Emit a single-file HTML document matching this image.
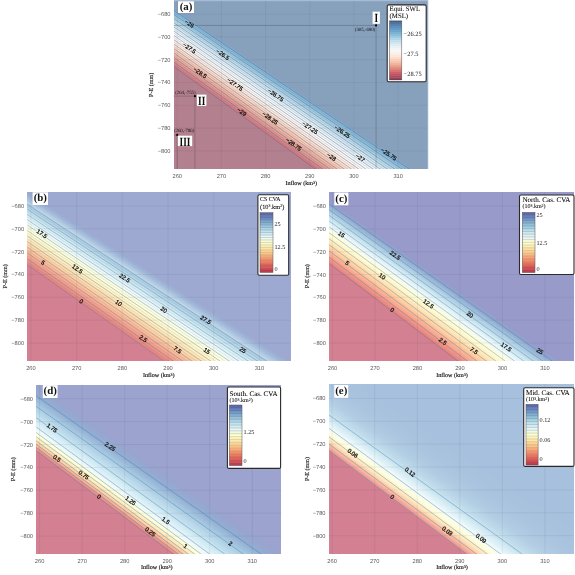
<!DOCTYPE html>
<html><head><meta charset="utf-8"><title>Caspian equilibrium figure</title>
<style>html,body{margin:0;padding:0;background:#fff;width:575px;height:575px;overflow:hidden}svg{display:block;filter:blur(0.5px)}svg text{text-rendering:geometricPrecision}
</style></head>
<body>
<svg width="575" height="575" viewBox="0 0 575 575">
<rect width="575" height="575" fill="#fff"/>
<clipPath id="clip_a"><rect x="174" y="0" width="254" height="169"/></clipPath>
<g clip-path="url(#clip_a)">
<rect x="174" y="0" width="254" height="169" fill="#b3808f"/>
<path d="M171.7 76.85L430.4 266.6L430.4 -400L171.7 -400Z" fill="#b3808f"/>
<path d="M171.7 65.57L430.4 252.77L430.4 -400L171.7 -400Z" fill="#c58592"/>
<path d="M171.7 65.11L430.4 252.2L430.4 -400L171.7 -400Z" fill="#d17580"/>
<path d="M171.7 64.65L430.4 251.63L430.4 -400L171.7 -400Z" fill="#d27781"/>
<path d="M171.7 64.18L430.4 251.06L430.4 -400L171.7 -400Z" fill="#d47a83"/>
<path d="M171.7 63.72L430.4 250.5L430.4 -400L171.7 -400Z" fill="#d57c83"/>
<path d="M171.7 63.26L430.4 249.93L430.4 -400L171.7 -400Z" fill="#d67f85"/>
<path d="M171.7 62.8L430.4 249.37L430.4 -400L171.7 -400Z" fill="#d78186"/>
<path d="M171.7 62.34L430.4 248.8L430.4 -400L171.7 -400Z" fill="#d98487"/>
<path d="M171.7 61.88L430.4 248.24L430.4 -400L171.7 -400Z" fill="#da8688"/>
<path d="M171.7 61.42L430.4 247.67L430.4 -400L171.7 -400Z" fill="#db8889"/>
<path d="M171.7 60.96L430.4 247.11L430.4 -400L171.7 -400Z" fill="#dc8b8b"/>
<path d="M171.7 60.5L430.4 246.55L430.4 -400L171.7 -400Z" fill="#dd8d8b"/>
<path d="M171.7 60.05L430.4 245.99L430.4 -400L171.7 -400Z" fill="#df908d"/>
<path d="M171.7 59.59L430.4 245.43L430.4 -400L171.7 -400Z" fill="#e0928e"/>
<path d="M171.7 59.13L430.4 244.87L430.4 -400L171.7 -400Z" fill="#e1958f"/>
<path d="M171.7 58.68L430.4 244.31L430.4 -400L171.7 -400Z" fill="#e29790"/>
<path d="M171.7 58.22L430.4 243.75L430.4 -400L171.7 -400Z" fill="#e49b92"/>
<path d="M171.7 57.77L430.4 243.19L430.4 -400L171.7 -400Z" fill="#e59c93"/>
<path d="M171.7 57.31L430.4 242.63L430.4 -400L171.7 -400Z" fill="#e6a094"/>
<path d="M171.7 56.86L430.4 242.08L430.4 -400L171.7 -400Z" fill="#e7a195"/>
<path d="M171.7 56.4L430.4 241.52L430.4 -400L171.7 -400Z" fill="#e9a498"/>
<path d="M171.7 55.95L430.4 240.96L430.4 -400L171.7 -400Z" fill="#e9a699"/>
<path d="M171.7 55.5L430.4 240.41L430.4 -400L171.7 -400Z" fill="#eaa89a"/>
<path d="M171.7 55.05L430.4 239.86L430.4 -400L171.7 -400Z" fill="#ebab9d"/>
<path d="M171.7 54.59L430.4 239.3L430.4 -400L171.7 -400Z" fill="#ecad9e"/>
<path d="M171.7 54.14L430.4 238.75L430.4 -400L171.7 -400Z" fill="#edb0a1"/>
<path d="M171.7 53.69L430.4 238.2L430.4 -400L171.7 -400Z" fill="#eeb1a2"/>
<path d="M171.7 53.24L430.4 237.64L430.4 -400L171.7 -400Z" fill="#f0b5a4"/>
<path d="M171.7 52.79L430.4 237.09L430.4 -400L171.7 -400Z" fill="#f0b6a6"/>
<path d="M171.7 52.34L430.4 236.54L430.4 -400L171.7 -400Z" fill="#f2baa8"/>
<path d="M171.7 51.89L430.4 235.99L430.4 -400L171.7 -400Z" fill="#f2bba9"/>
<path d="M171.7 51.45L430.4 235.44L430.4 -400L171.7 -400Z" fill="#f4beac"/>
<path d="M171.7 51L430.4 234.89L430.4 -400L171.7 -400Z" fill="#f5c0ad"/>
<path d="M171.7 50.55L430.4 234.34L430.4 -400L171.7 -400Z" fill="#f5c2ae"/>
<path d="M171.7 50.1L430.4 233.8L430.4 -400L171.7 -400Z" fill="#f7c5b1"/>
<path d="M171.7 49.66L430.4 233.25L430.4 -400L171.7 -400Z" fill="#f7c7b2"/>
<path d="M171.7 49.21L430.4 232.7L430.4 -400L171.7 -400Z" fill="#f9cab5"/>
<path d="M171.7 48.77L430.4 232.16L430.4 -400L171.7 -400Z" fill="#f9cbb6"/>
<path d="M171.7 48.32L430.4 231.61L430.4 -400L171.7 -400Z" fill="#f9cdba"/>
<path d="M171.7 47.88L430.4 231.07L430.4 -400L171.7 -400Z" fill="#f9cfbb"/>
<path d="M171.7 47.43L430.4 230.52L430.4 -400L171.7 -400Z" fill="#fad1bf"/>
<path d="M171.7 46.99L430.4 229.98L430.4 -400L171.7 -400Z" fill="#fad3c0"/>
<path d="M171.7 46.55L430.4 229.43L430.4 -400L171.7 -400Z" fill="#fad5c3"/>
<path d="M171.7 46.11L430.4 228.89L430.4 -400L171.7 -400Z" fill="#fbd6c5"/>
<path d="M171.7 45.66L430.4 228.35L430.4 -400L171.7 -400Z" fill="#fbd8c7"/>
<path d="M171.7 45.22L430.4 227.81L430.4 -400L171.7 -400Z" fill="#fbdaca"/>
<path d="M171.7 44.78L430.4 227.27L430.4 -400L171.7 -400Z" fill="#fbdbcc"/>
<path d="M171.7 44.34L430.4 226.73L430.4 -400L171.7 -400Z" fill="#fcdecf"/>
<path d="M171.7 43.9L430.4 226.19L430.4 -400L171.7 -400Z" fill="#fcdfd0"/>
<path d="M171.7 43.46L430.4 225.65L430.4 -400L171.7 -400Z" fill="#fde2d4"/>
<path d="M171.7 43.02L430.4 225.11L430.4 -400L171.7 -400Z" fill="#fde3d5"/>
<path d="M171.7 42.58L430.4 224.57L430.4 -400L171.7 -400Z" fill="#fde6d9"/>
<path d="M171.7 42.15L430.4 224.04L430.4 -400L171.7 -400Z" fill="#fde7da"/>
<path d="M171.7 41.71L430.4 223.5L430.4 -400L171.7 -400Z" fill="#fee9dd"/>
<path d="M171.7 41.27L430.4 222.96L430.4 -400L171.7 -400Z" fill="#feeadf"/>
<path d="M171.7 40.83L430.4 222.43L430.4 -400L171.7 -400Z" fill="#fdebe1"/>
<path d="M171.7 40.4L430.4 221.89L430.4 -400L171.7 -400Z" fill="#fdece2"/>
<path d="M171.7 39.96L430.4 221.36L430.4 -400L171.7 -400Z" fill="#fdede3"/>
<path d="M171.7 39.53L430.4 220.83L430.4 -400L171.7 -400Z" fill="#fdeee5"/>
<path d="M171.7 39.09L430.4 220.29L430.4 -400L171.7 -400Z" fill="#fdefe6"/>
<path d="M171.7 38.66L430.4 219.76L430.4 -400L171.7 -400Z" fill="#fcf0e9"/>
<path d="M171.7 38.23L430.4 219.23L430.4 -400L171.7 -400Z" fill="#fcf1ea"/>
<path d="M171.7 37.79L430.4 218.7L430.4 -400L171.7 -400Z" fill="#fcf2ec"/>
<path d="M171.7 37.36L430.4 218.17L430.4 -400L171.7 -400Z" fill="#fcf3ed"/>
<path d="M171.7 36.93L430.4 217.64L430.4 -400L171.7 -400Z" fill="#fcf4ef"/>
<path d="M171.7 36.49L430.4 217.11L430.4 -400L171.7 -400Z" fill="#fbf5f1"/>
<path d="M171.7 36.06L430.4 216.58L430.4 -400L171.7 -400Z" fill="#fbf6f3"/>
<path d="M171.7 35.63L430.4 216.05L430.4 -400L171.7 -400Z" fill="#fbf7f4"/>
<path d="M171.7 35.2L430.4 215.52L430.4 -400L171.7 -400Z" fill="#fbf7f5"/>
<path d="M171.7 34.77L430.4 214.99L430.4 -400L171.7 -400Z" fill="#fbf9f7"/>
<path d="M171.7 34.34L430.4 214.47L430.4 -400L171.7 -400Z" fill="#faf9f9"/>
<path d="M171.7 33.91L430.4 213.94L430.4 -400L171.7 -400Z" fill="#fafafa"/>
<path d="M171.7 33.48L430.4 213.42L430.4 -400L171.7 -400Z" fill="#f9fafa"/>
<path d="M171.7 33.06L430.4 212.89L430.4 -400L171.7 -400Z" fill="#f7f9fa"/>
<path d="M171.7 32.63L430.4 212.37L430.4 -400L171.7 -400Z" fill="#f6f8f9"/>
<path d="M171.7 32.2L430.4 211.84L430.4 -400L171.7 -400Z" fill="#f4f7f9"/>
<path d="M171.7 31.78L430.4 211.32L430.4 -400L171.7 -400Z" fill="#f3f7f9"/>
<path d="M171.7 31.35L430.4 210.8L430.4 -400L171.7 -400Z" fill="#f2f6f9"/>
<path d="M171.7 30.92L430.4 210.27L430.4 -400L171.7 -400Z" fill="#f1f6f8"/>
<path d="M171.7 30.5L430.4 209.75L430.4 -400L171.7 -400Z" fill="#f0f5f8"/>
<path d="M171.7 30.07L430.4 209.23L430.4 -400L171.7 -400Z" fill="#eef4f8"/>
<path d="M171.7 29.65L430.4 208.71L430.4 -400L171.7 -400Z" fill="#edf4f8"/>
<path d="M171.7 29.22L430.4 208.19L430.4 -400L171.7 -400Z" fill="#ebf3f7"/>
<path d="M171.7 28.38L430.4 207.15L430.4 -400L171.7 -400Z" fill="#e9f2f7"/>
<path d="M171.7 27.95L430.4 206.63L430.4 -400L171.7 -400Z" fill="#e8f2f7"/>
<path d="M171.7 27.53L430.4 206.12L430.4 -400L171.7 -400Z" fill="#e6f1f6"/>
<path d="M171.7 27.11L430.4 205.6L430.4 -400L171.7 -400Z" fill="#e5f0f6"/>
<path d="M171.7 26.69L430.4 205.08L430.4 -400L171.7 -400Z" fill="#e3eff6"/>
<path d="M171.7 26.27L430.4 204.57L430.4 -400L171.7 -400Z" fill="#e2eff6"/>
<path d="M171.7 25.85L430.4 204.05L430.4 -400L171.7 -400Z" fill="#dfedf5"/>
<path d="M171.7 25.43L430.4 203.54L430.4 -400L171.7 -400Z" fill="#ddecf4"/>
<path d="M171.7 25.01L430.4 203.02L430.4 -400L171.7 -400Z" fill="#dcecf4"/>
<path d="M171.7 24.59L430.4 202.51L430.4 -400L171.7 -400Z" fill="#d9eaf3"/>
<path d="M171.7 24.17L430.4 201.99L430.4 -400L171.7 -400Z" fill="#d8e9f3"/>
<path d="M171.7 23.75L430.4 201.48L430.4 -400L171.7 -400Z" fill="#d5e8f2"/>
<path d="M171.7 23.33L430.4 200.97L430.4 -400L171.7 -400Z" fill="#d3e7f1"/>
<path d="M171.7 22.92L430.4 200.46L430.4 -400L171.7 -400Z" fill="#d0e6f0"/>
<path d="M171.7 22.5L430.4 199.95L430.4 -400L171.7 -400Z" fill="#cfe5f0"/>
<path d="M171.7 22.08L430.4 199.44L430.4 -400L171.7 -400Z" fill="#cce3ef"/>
<path d="M171.7 21.67L430.4 198.93L430.4 -400L171.7 -400Z" fill="#cae3ef"/>
<path d="M171.7 21.25L430.4 198.42L430.4 -400L171.7 -400Z" fill="#c7e1ee"/>
<path d="M171.7 20.84L430.4 197.91L430.4 -400L171.7 -400Z" fill="#c6e0ee"/>
<path d="M171.7 20.42L430.4 197.4L430.4 -400L171.7 -400Z" fill="#c4e0ed"/>
<path d="M171.7 20.01L430.4 196.89L430.4 -400L171.7 -400Z" fill="#c1deec"/>
<path d="M171.7 19.6L430.4 196.38L430.4 -400L171.7 -400Z" fill="#c0ddec"/>
<path d="M171.7 19.18L430.4 195.88L430.4 -400L171.7 -400Z" fill="#bddceb"/>
<path d="M171.7 18.77L430.4 195.37L430.4 -400L171.7 -400Z" fill="#bbdaea"/>
<path d="M171.7 18.36L430.4 194.86L430.4 -400L171.7 -400Z" fill="#b7d8e9"/>
<path d="M171.7 17.94L430.4 194.36L430.4 -400L171.7 -400Z" fill="#b5d7e8"/>
<path d="M171.7 17.53L430.4 193.85L430.4 -400L171.7 -400Z" fill="#b2d5e7"/>
<path d="M171.7 17.12L430.4 193.35L430.4 -400L171.7 -400Z" fill="#b0d3e6"/>
<path d="M171.7 16.71L430.4 192.85L430.4 -400L171.7 -400Z" fill="#acd1e5"/>
<path d="M171.7 16.3L430.4 192.34L430.4 -400L171.7 -400Z" fill="#aad0e5"/>
<path d="M171.7 15.89L430.4 191.84L430.4 -400L171.7 -400Z" fill="#a8cfe4"/>
<path d="M171.7 15.48L430.4 191.34L430.4 -400L171.7 -400Z" fill="#a5cce3"/>
<path d="M171.7 15.07L430.4 190.84L430.4 -400L171.7 -400Z" fill="#a3cbe2"/>
<path d="M171.7 14.66L430.4 190.34L430.4 -400L171.7 -400Z" fill="#9fc9e1"/>
<path d="M171.7 14.26L430.4 189.83L430.4 -400L171.7 -400Z" fill="#9dc8e0"/>
<path d="M171.7 13.85L430.4 189.33L430.4 -400L171.7 -400Z" fill="#99c5df"/>
<path d="M171.7 13.44L430.4 188.84L430.4 -400L171.7 -400Z" fill="#97c4de"/>
<path d="M171.7 13.03L430.4 188.34L430.4 -400L171.7 -400Z" fill="#94c2dd"/>
<path d="M171.7 12.63L430.4 187.84L430.4 -400L171.7 -400Z" fill="#92c1dc"/>
<path d="M171.7 12.22L430.4 187.34L430.4 -400L171.7 -400Z" fill="#8ebedb"/>
<path d="M171.7 11.82L430.4 186.84L430.4 -400L171.7 -400Z" fill="#8dbdda"/>
<path d="M171.7 11.41L430.4 186.35L430.4 -400L171.7 -400Z" fill="#8cbbd9"/>
<path d="M171.7 11.01L430.4 185.85L430.4 -400L171.7 -400Z" fill="#8bbad9"/>
<path d="M171.7 10.6L430.4 185.35L430.4 -400L171.7 -400Z" fill="#8ab9d8"/>
<path d="M171.7 10.2L430.4 184.86L430.4 -400L171.7 -400Z" fill="#89b7d7"/>
<path d="M171.7 9.79L430.4 184.36L430.4 -400L171.7 -400Z" fill="#88b6d7"/>
<path d="M171.7 9.39L430.4 183.87L430.4 -400L171.7 -400Z" fill="#86b4d6"/>
<path d="M171.7 8.99L430.4 183.38L430.4 -400L171.7 -400Z" fill="#85b1d4"/>
<path d="M171.7 8.59L430.4 182.88L430.4 -400L171.7 -400Z" fill="#85add3"/>
<path d="M171.7 8.18L430.4 182.39L430.4 -400L171.7 -400Z" fill="#85aad1"/>
<path d="M171.7 7.78L430.4 181.9L430.4 -400L171.7 -400Z" fill="#85a5c7"/>
<path d="M171.7 7.38L430.4 181.41L430.4 -400L171.7 -400Z" fill="#86a2c0"/>
<path d="M171.7 6.98L430.4 180.92L430.4 -400L171.7 -400Z" fill="#87a1bd"/>
</g>
<g stroke="rgba(60,60,90,0.10)" stroke-width="0.8">
<line x1="177.23" y1="0" x2="177.23" y2="168.7"/>
<line x1="221.41" y1="0" x2="221.41" y2="168.7"/>
<line x1="265.6" y1="0" x2="265.6" y2="168.7"/>
<line x1="309.78" y1="0" x2="309.78" y2="168.7"/>
<line x1="353.96" y1="0" x2="353.96" y2="168.7"/>
<line x1="398.14" y1="0" x2="398.14" y2="168.7"/>
<line x1="173.7" y1="14.03" x2="428.4" y2="14.03"/>
<line x1="173.7" y1="36.84" x2="428.4" y2="36.84"/>
<line x1="173.7" y1="59.66" x2="428.4" y2="59.66"/>
<line x1="173.7" y1="82.47" x2="428.4" y2="82.47"/>
<line x1="173.7" y1="105.28" x2="428.4" y2="105.28"/>
<line x1="173.7" y1="128.09" x2="428.4" y2="128.09"/>
<line x1="173.7" y1="150.91" x2="428.4" y2="150.91"/>
</g>
<g clip-path="url(#clip_a)" stroke="#4a6885" stroke-width="0.75" stroke-opacity="0.6" fill="none">
<line x1="173.7" y1="66.56" x2="428.4" y2="250.75"/>
<line x1="173.7" y1="61.94" x2="428.4" y2="245.11"/>
<line x1="173.7" y1="57.38" x2="428.4" y2="239.53"/>
<line x1="173.7" y1="52.87" x2="428.4" y2="234.02"/>
<line x1="173.7" y1="48.41" x2="428.4" y2="228.56"/>
<line x1="173.7" y1="43.99" x2="428.4" y2="223.17"/>
<line x1="173.7" y1="39.62" x2="428.4" y2="217.83"/>
<line x1="173.7" y1="35.31" x2="428.4" y2="212.55"/>
<line x1="173.7" y1="31.03" x2="428.4" y2="207.33"/>
<line x1="173.7" y1="26.8" x2="428.4" y2="202.16"/>
<line x1="173.7" y1="22.62" x2="428.4" y2="197.05"/>
<line x1="173.7" y1="18.48" x2="428.4" y2="191.99"/>
<line x1="173.7" y1="14.39" x2="428.4" y2="186.98"/>
<line x1="173.7" y1="10.34" x2="428.4" y2="182.03"/>
</g>
<g clip-path="url(#clip_a)" stroke="#4a6885" stroke-width="0.6" stroke-opacity="0.3" fill="none">
<line x1="173.7" y1="64.24" x2="428.4" y2="247.92"/>
<line x1="173.7" y1="59.66" x2="428.4" y2="242.32"/>
<line x1="173.7" y1="55.12" x2="428.4" y2="236.77"/>
<line x1="173.7" y1="50.63" x2="428.4" y2="231.28"/>
<line x1="173.7" y1="46.19" x2="428.4" y2="225.86"/>
<line x1="173.7" y1="41.8" x2="428.4" y2="220.49"/>
<line x1="173.7" y1="37.46" x2="428.4" y2="215.18"/>
<line x1="173.7" y1="33.16" x2="428.4" y2="209.93"/>
<line x1="173.7" y1="28.91" x2="428.4" y2="204.74"/>
<line x1="173.7" y1="24.71" x2="428.4" y2="199.6"/>
<line x1="173.7" y1="20.55" x2="428.4" y2="194.51"/>
<line x1="173.7" y1="16.43" x2="428.4" y2="189.48"/>
<line x1="173.7" y1="12.36" x2="428.4" y2="184.5"/>
</g>
<clipPath id="clip_b"><rect x="27" y="192" width="264" height="169"/></clipPath>
<g clip-path="url(#clip_b)">
<rect x="27" y="192" width="264" height="169" fill="#d28092"/>
<path d="M25.3 273.69L292.7 464.87L292.7 -208.2L25.3 -208.2Z" fill="#d28092"/>
<path d="M25.3 263.66L292.7 452.58L292.7 -208.2L25.3 -208.2Z" fill="#df8c93"/>
<path d="M25.3 263.05L292.7 451.82L292.7 -208.2L25.3 -208.2Z" fill="#e38282"/>
<path d="M25.3 262.43L292.7 451.07L292.7 -208.2L25.3 -208.2Z" fill="#e58482"/>
<path d="M25.3 261.81L292.7 450.31L292.7 -208.2L25.3 -208.2Z" fill="#e78682"/>
<path d="M25.3 261.19L292.7 449.55L292.7 -208.2L25.3 -208.2Z" fill="#e98983"/>
<path d="M25.3 260.58L292.7 448.8L292.7 -208.2L25.3 -208.2Z" fill="#ea8c84"/>
<path d="M25.3 259.97L292.7 448.05L292.7 -208.2L25.3 -208.2Z" fill="#eb8d85"/>
<path d="M25.3 259.35L292.7 447.3L292.7 -208.2L25.3 -208.2Z" fill="#ec9086"/>
<path d="M25.3 258.74L292.7 446.54L292.7 -208.2L25.3 -208.2Z" fill="#ed9387"/>
<path d="M25.3 258.13L292.7 445.79L292.7 -208.2L25.3 -208.2Z" fill="#ef9688"/>
<path d="M25.3 257.52L292.7 445.05L292.7 -208.2L25.3 -208.2Z" fill="#f0988a"/>
<path d="M25.3 256.91L292.7 444.3L292.7 -208.2L25.3 -208.2Z" fill="#f19a8a"/>
<path d="M25.3 256.3L292.7 443.55L292.7 -208.2L25.3 -208.2Z" fill="#f29c8c"/>
<path d="M25.3 255.69L292.7 442.81L292.7 -208.2L25.3 -208.2Z" fill="#f39f8d"/>
<path d="M25.3 255.09L292.7 442.06L292.7 -208.2L25.3 -208.2Z" fill="#f5a28e"/>
<path d="M25.3 254.48L292.7 441.32L292.7 -208.2L25.3 -208.2Z" fill="#f6a58f"/>
<path d="M25.3 253.88L292.7 440.58L292.7 -208.2L25.3 -208.2Z" fill="#f7a690"/>
<path d="M25.3 253.27L292.7 439.84L292.7 -208.2L25.3 -208.2Z" fill="#f8a991"/>
<path d="M25.3 252.67L292.7 439.1L292.7 -208.2L25.3 -208.2Z" fill="#f9ac93"/>
<path d="M25.3 252.07L292.7 438.36L292.7 -208.2L25.3 -208.2Z" fill="#f9af94"/>
<path d="M25.3 251.46L292.7 437.62L292.7 -208.2L25.3 -208.2Z" fill="#fab295"/>
<path d="M25.3 250.86L292.7 436.89L292.7 -208.2L25.3 -208.2Z" fill="#fab396"/>
<path d="M25.3 250.26L292.7 436.15L292.7 -208.2L25.3 -208.2Z" fill="#fab697"/>
<path d="M25.3 249.66L292.7 435.42L292.7 -208.2L25.3 -208.2Z" fill="#fbb999"/>
<path d="M25.3 249.07L292.7 434.68L292.7 -208.2L25.3 -208.2Z" fill="#fbbc9a"/>
<path d="M25.3 248.47L292.7 433.95L292.7 -208.2L25.3 -208.2Z" fill="#fbbf9c"/>
<path d="M25.3 247.87L292.7 433.22L292.7 -208.2L25.3 -208.2Z" fill="#fcc09c"/>
<path d="M25.3 247.28L292.7 432.49L292.7 -208.2L25.3 -208.2Z" fill="#fcc39e"/>
<path d="M25.3 246.68L292.7 431.76L292.7 -208.2L25.3 -208.2Z" fill="#fdc69f"/>
<path d="M25.3 246.09L292.7 431.03L292.7 -208.2L25.3 -208.2Z" fill="#fdc9a0"/>
<path d="M25.3 245.5L292.7 430.31L292.7 -208.2L25.3 -208.2Z" fill="#fdcca2"/>
<path d="M25.3 244.9L292.7 429.58L292.7 -208.2L25.3 -208.2Z" fill="#fecea2"/>
<path d="M25.3 244.31L292.7 428.85L292.7 -208.2L25.3 -208.2Z" fill="#fed1a4"/>
<path d="M25.3 243.72L292.7 428.13L292.7 -208.2L25.3 -208.2Z" fill="#fed3a6"/>
<path d="M25.3 243.13L292.7 427.41L292.7 -208.2L25.3 -208.2Z" fill="#fed5a8"/>
<path d="M25.3 242.55L292.7 426.69L292.7 -208.2L25.3 -208.2Z" fill="#fed7aa"/>
<path d="M25.3 241.96L292.7 425.97L292.7 -208.2L25.3 -208.2Z" fill="#fed9ab"/>
<path d="M25.3 241.37L292.7 425.25L292.7 -208.2L25.3 -208.2Z" fill="#fedbae"/>
<path d="M25.3 240.78L292.7 424.53L292.7 -208.2L25.3 -208.2Z" fill="#feddb0"/>
<path d="M25.3 240.2L292.7 423.81L292.7 -208.2L25.3 -208.2Z" fill="#fedfb2"/>
<path d="M25.3 239.62L292.7 423.09L292.7 -208.2L25.3 -208.2Z" fill="#fee2b4"/>
<path d="M25.3 239.03L292.7 422.38L292.7 -208.2L25.3 -208.2Z" fill="#fee3b5"/>
<path d="M25.3 238.45L292.7 421.66L292.7 -208.2L25.3 -208.2Z" fill="#fee5b7"/>
<path d="M25.3 237.87L292.7 420.95L292.7 -208.2L25.3 -208.2Z" fill="#fee7b9"/>
<path d="M25.3 237.29L292.7 420.24L292.7 -208.2L25.3 -208.2Z" fill="#feeabb"/>
<path d="M25.3 236.71L292.7 419.53L292.7 -208.2L25.3 -208.2Z" fill="#feecbe"/>
<path d="M25.3 236.13L292.7 418.82L292.7 -208.2L25.3 -208.2Z" fill="#feedbf"/>
<path d="M25.3 235.55L292.7 418.11L292.7 -208.2L25.3 -208.2Z" fill="#feeec1"/>
<path d="M25.3 234.97L292.7 417.4L292.7 -208.2L25.3 -208.2Z" fill="#fff0c3"/>
<path d="M25.3 234.39L292.7 416.69L292.7 -208.2L25.3 -208.2Z" fill="#fff1c5"/>
<path d="M25.3 233.82L292.7 415.99L292.7 -208.2L25.3 -208.2Z" fill="#fff3c7"/>
<path d="M25.3 233.24L292.7 415.28L292.7 -208.2L25.3 -208.2Z" fill="#fff3c8"/>
<path d="M25.3 232.67L292.7 414.58L292.7 -208.2L25.3 -208.2Z" fill="#fff5ca"/>
<path d="M25.3 232.1L292.7 413.87L292.7 -208.2L25.3 -208.2Z" fill="#fff6cd"/>
<path d="M25.3 231.52L292.7 413.17L292.7 -208.2L25.3 -208.2Z" fill="#fff8cf"/>
<path d="M25.3 230.95L292.7 412.47L292.7 -208.2L25.3 -208.2Z" fill="#fff9d1"/>
<path d="M25.3 230.38L292.7 411.77L292.7 -208.2L25.3 -208.2Z" fill="#fffad2"/>
<path d="M25.3 229.81L292.7 411.07L292.7 -208.2L25.3 -208.2Z" fill="#fffbd4"/>
<path d="M25.3 229.24L292.7 410.37L292.7 -208.2L25.3 -208.2Z" fill="#fffdd6"/>
<path d="M25.3 228.67L292.7 409.67L292.7 -208.2L25.3 -208.2Z" fill="#fffed8"/>
<path d="M25.3 228.1L292.7 408.98L292.7 -208.2L25.3 -208.2Z" fill="#ffffdb"/>
<path d="M25.3 227.54L292.7 408.28L292.7 -208.2L25.3 -208.2Z" fill="#feffdc"/>
<path d="M25.3 226.97L292.7 407.59L292.7 -208.2L25.3 -208.2Z" fill="#fdfede"/>
<path d="M25.3 226.4L292.7 406.89L292.7 -208.2L25.3 -208.2Z" fill="#fbfde1"/>
<path d="M25.3 225.84L292.7 406.2L292.7 -208.2L25.3 -208.2Z" fill="#fafde4"/>
<path d="M25.3 225.28L292.7 405.51L292.7 -208.2L25.3 -208.2Z" fill="#f8fce6"/>
<path d="M25.3 224.71L292.7 404.82L292.7 -208.2L25.3 -208.2Z" fill="#f8fce7"/>
<path d="M25.3 224.15L292.7 404.13L292.7 -208.2L25.3 -208.2Z" fill="#f6fcea"/>
<path d="M25.3 223.59L292.7 403.44L292.7 -208.2L25.3 -208.2Z" fill="#f5fbed"/>
<path d="M25.3 223.03L292.7 402.76L292.7 -208.2L25.3 -208.2Z" fill="#f3faef"/>
<path d="M25.3 222.47L292.7 402.07L292.7 -208.2L25.3 -208.2Z" fill="#f2faf2"/>
<path d="M25.3 221.91L292.7 401.38L292.7 -208.2L25.3 -208.2Z" fill="#f1faf3"/>
<path d="M25.3 221.35L292.7 400.7L292.7 -208.2L25.3 -208.2Z" fill="#f0f9f6"/>
<path d="M25.3 220.79L292.7 400.02L292.7 -208.2L25.3 -208.2Z" fill="#eef9f8"/>
<path d="M25.3 220.24L292.7 399.33L292.7 -208.2L25.3 -208.2Z" fill="#edf8fb"/>
<path d="M25.3 219.68L292.7 398.65L292.7 -208.2L25.3 -208.2Z" fill="#ebf7fa"/>
<path d="M25.3 219.13L292.7 397.97L292.7 -208.2L25.3 -208.2Z" fill="#e9f6fa"/>
<path d="M25.3 218.57L292.7 397.29L292.7 -208.2L25.3 -208.2Z" fill="#e7f5f9"/>
<path d="M25.3 218.02L292.7 396.61L292.7 -208.2L25.3 -208.2Z" fill="#e5f4f9"/>
<path d="M25.3 217.47L292.7 395.93L292.7 -208.2L25.3 -208.2Z" fill="#e2f3f8"/>
<path d="M25.3 216.91L292.7 395.26L292.7 -208.2L25.3 -208.2Z" fill="#e0f2f7"/>
<path d="M25.3 216.36L292.7 394.58L292.7 -208.2L25.3 -208.2Z" fill="#dff1f7"/>
<path d="M25.3 215.81L292.7 393.91L292.7 -208.2L25.3 -208.2Z" fill="#dcf0f6"/>
<path d="M25.3 215.26L292.7 393.23L292.7 -208.2L25.3 -208.2Z" fill="#daeff5"/>
<path d="M25.3 214.71L292.7 392.56L292.7 -208.2L25.3 -208.2Z" fill="#d7edf5"/>
<path d="M25.3 214.16L292.7 391.89L292.7 -208.2L25.3 -208.2Z" fill="#d5ecf4"/>
<path d="M25.3 213.62L292.7 391.22L292.7 -208.2L25.3 -208.2Z" fill="#d4ecf4"/>
<path d="M25.3 213.07L292.7 390.54L292.7 -208.2L25.3 -208.2Z" fill="#d1eaf3"/>
<path d="M25.3 212.52L292.7 389.88L292.7 -208.2L25.3 -208.2Z" fill="#cfe9f2"/>
<path d="M25.3 211.98L292.7 389.21L292.7 -208.2L25.3 -208.2Z" fill="#cce7f1"/>
<path d="M25.3 211.43L292.7 388.54L292.7 -208.2L25.3 -208.2Z" fill="#cae5f0"/>
<path d="M25.3 210.89L292.7 387.87L292.7 -208.2L25.3 -208.2Z" fill="#c9e4f0"/>
<path d="M25.3 210.35L292.7 387.21L292.7 -208.2L25.3 -208.2Z" fill="#c6e2ef"/>
<path d="M25.3 209.81L292.7 386.54L292.7 -208.2L25.3 -208.2Z" fill="#c4e0ee"/>
<path d="M25.3 209.26L292.7 385.88L292.7 -208.2L25.3 -208.2Z" fill="#c1deed"/>
<path d="M25.3 208.72L292.7 385.22L292.7 -208.2L25.3 -208.2Z" fill="#bfdceb"/>
<path d="M25.3 208.18L292.7 384.55L292.7 -208.2L25.3 -208.2Z" fill="#bddbeb"/>
<path d="M25.3 207.65L292.7 383.89L292.7 -208.2L25.3 -208.2Z" fill="#bbd9ea"/>
<path d="M25.3 207.11L292.7 383.23L292.7 -208.2L25.3 -208.2Z" fill="#b8d7e9"/>
<path d="M25.3 206.57L292.7 382.57L292.7 -208.2L25.3 -208.2Z" fill="#b6d5e8"/>
<path d="M25.3 206.03L292.7 381.91L292.7 -208.2L25.3 -208.2Z" fill="#b3d3e7"/>
<path d="M25.3 205.5L292.7 381.26L292.7 -208.2L25.3 -208.2Z" fill="#b2d2e6"/>
<path d="M25.3 204.96L292.7 380.6L292.7 -208.2L25.3 -208.2Z" fill="#b0d0e5"/>
<path d="M25.3 204.43L292.7 379.95L292.7 -208.2L25.3 -208.2Z" fill="#adcee4"/>
<path d="M25.3 203.89L292.7 379.29L292.7 -208.2L25.3 -208.2Z" fill="#abcce2"/>
<path d="M25.3 203.36L292.7 378.64L292.7 -208.2L25.3 -208.2Z" fill="#a9c9e1"/>
<path d="M25.3 202.83L292.7 377.98L292.7 -208.2L25.3 -208.2Z" fill="#c5daeb"/>
<path d="M25.3 202.29L292.7 377.33L292.7 -208.2L25.3 -208.2Z" fill="#c1d7e9"/>
<path d="M25.3 201.76L292.7 376.68L292.7 -208.2L25.3 -208.2Z" fill="#bfd5e8"/>
<path d="M25.3 201.23L292.7 376.03L292.7 -208.2L25.3 -208.2Z" fill="#bbd2e6"/>
<path d="M25.3 200.7L292.7 375.38L292.7 -208.2L25.3 -208.2Z" fill="#b9d0e5"/>
<path d="M25.3 200.17L292.7 374.73L292.7 -208.2L25.3 -208.2Z" fill="#b6cde3"/>
<path d="M25.3 199.65L292.7 374.08L292.7 -208.2L25.3 -208.2Z" fill="#b3cbe2"/>
<path d="M25.3 199.12L292.7 373.44L292.7 -208.2L25.3 -208.2Z" fill="#b1c9e1"/>
<path d="M25.3 198.59L292.7 372.79L292.7 -208.2L25.3 -208.2Z" fill="#aec6e0"/>
<path d="M25.3 198.07L292.7 372.15L292.7 -208.2L25.3 -208.2Z" fill="#acc4df"/>
<path d="M25.3 197.54L292.7 371.5L292.7 -208.2L25.3 -208.2Z" fill="#a9c1dd"/>
<path d="M25.3 197.02L292.7 370.86L292.7 -208.2L25.3 -208.2Z" fill="#a7bfdc"/>
<path d="M25.3 196.49L292.7 370.22L292.7 -208.2L25.3 -208.2Z" fill="#a4bcdb"/>
<path d="M25.3 195.97L292.7 369.58L292.7 -208.2L25.3 -208.2Z" fill="#a3bbda"/>
<path d="M25.3 195.45L292.7 368.94L292.7 -208.2L25.3 -208.2Z" fill="#a1b8d8"/>
<path d="M25.3 194.93L292.7 368.3L292.7 -208.2L25.3 -208.2Z" fill="#a0b6d8"/>
<path d="M25.3 194.4L292.7 367.66L292.7 -208.2L25.3 -208.2Z" fill="#9fb3d6"/>
<path d="M25.3 193.88L292.7 367.02L292.7 -208.2L25.3 -208.2Z" fill="#9eb2d6"/>
<path d="M25.3 193.36L292.7 366.38L292.7 -208.2L25.3 -208.2Z" fill="#9eb1d5"/>
<path d="M25.3 192.85L292.7 365.75L292.7 -208.2L25.3 -208.2Z" fill="#9daed4"/>
<path d="M25.3 192.33L292.7 365.11L292.7 -208.2L25.3 -208.2Z" fill="#9dadd3"/>
<path d="M25.3 191.81L292.7 364.48L292.7 -208.2L25.3 -208.2Z" fill="#9dabd2"/>
<path d="M25.3 191.29L292.7 363.84L292.7 -208.2L25.3 -208.2Z" fill="#9daad2"/>
<path d="M25.3 190.78L292.7 363.21L292.7 -208.2L25.3 -208.2Z" fill="#9da9d1"/>
</g>
<g stroke="rgba(60,60,90,0.10)" stroke-width="0.8">
<line x1="30.96" y1="191.8" x2="30.96" y2="360.9"/>
<line x1="76.64" y1="191.8" x2="76.64" y2="360.9"/>
<line x1="122.33" y1="191.8" x2="122.33" y2="360.9"/>
<line x1="168.02" y1="191.8" x2="168.02" y2="360.9"/>
<line x1="213.71" y1="191.8" x2="213.71" y2="360.9"/>
<line x1="259.4" y1="191.8" x2="259.4" y2="360.9"/>
<line x1="27.3" y1="205.86" x2="290.7" y2="205.86"/>
<line x1="27.3" y1="228.73" x2="290.7" y2="228.73"/>
<line x1="27.3" y1="251.6" x2="290.7" y2="251.6"/>
<line x1="27.3" y1="274.46" x2="290.7" y2="274.46"/>
<line x1="27.3" y1="297.33" x2="290.7" y2="297.33"/>
<line x1="27.3" y1="320.2" x2="290.7" y2="320.2"/>
<line x1="27.3" y1="343.06" x2="290.7" y2="343.06"/>
</g>
<g clip-path="url(#clip_b)" stroke="#4a7a95" stroke-width="0.65" stroke-opacity="0.6" fill="none">
<line x1="27.3" y1="264.6" x2="290.7" y2="450.59"/>
<line x1="27.3" y1="258.72" x2="290.7" y2="443.4"/>
<line x1="27.3" y1="252.93" x2="290.7" y2="436.31"/>
<line x1="27.3" y1="247.21" x2="290.7" y2="429.32"/>
<line x1="27.3" y1="241.57" x2="290.7" y2="422.43"/>
<line x1="27.3" y1="236.01" x2="290.7" y2="415.63"/>
<line x1="27.3" y1="230.52" x2="290.7" y2="408.92"/>
<line x1="27.3" y1="225.11" x2="290.7" y2="402.31"/>
<line x1="27.3" y1="219.77" x2="290.7" y2="395.78"/>
<line x1="27.3" y1="214.5" x2="290.7" y2="389.34"/>
<line x1="27.3" y1="209.3" x2="290.7" y2="382.98"/>
<line x1="27.3" y1="204.17" x2="290.7" y2="376.71"/>
</g>
<g clip-path="url(#clip_b)" stroke="#4a7a95" stroke-width="0.55" stroke-opacity="0.25" fill="none">
<line x1="27.3" y1="261.65" x2="290.7" y2="446.98"/>
<line x1="27.3" y1="255.81" x2="290.7" y2="439.85"/>
<line x1="27.3" y1="250.06" x2="290.7" y2="432.81"/>
<line x1="27.3" y1="244.38" x2="290.7" y2="425.87"/>
<line x1="27.3" y1="238.78" x2="290.7" y2="419.02"/>
<line x1="27.3" y1="233.25" x2="290.7" y2="412.27"/>
<line x1="27.3" y1="227.8" x2="290.7" y2="405.6"/>
<line x1="27.3" y1="222.43" x2="290.7" y2="399.03"/>
<line x1="27.3" y1="217.12" x2="290.7" y2="392.55"/>
<line x1="27.3" y1="211.89" x2="290.7" y2="386.15"/>
<line x1="27.3" y1="206.72" x2="290.7" y2="379.84"/>
</g>
<clipPath id="clip_c"><rect x="329" y="192" width="245" height="169"/></clipPath>
<g clip-path="url(#clip_c)">
<rect x="329" y="192" width="245" height="169" fill="#d28092"/>
<path d="M327.1 273.63L576 464.69L576 -208L327.1 -208Z" fill="#d28092"/>
<path d="M327.1 262.4L576 450.91L576 -208L327.1 -208Z" fill="#dc7b81"/>
<path d="M327.1 261.78L576 450.16L576 -208L327.1 -208Z" fill="#e48382"/>
<path d="M327.1 261.17L576 449.4L576 -208L327.1 -208Z" fill="#e68582"/>
<path d="M327.1 260.55L576 448.65L576 -208L327.1 -208Z" fill="#e88882"/>
<path d="M327.1 259.94L576 447.9L576 -208L327.1 -208Z" fill="#e98a83"/>
<path d="M327.1 259.33L576 447.15L576 -208L327.1 -208Z" fill="#eb8d85"/>
<path d="M327.1 258.72L576 446.4L576 -208L327.1 -208Z" fill="#ec9086"/>
<path d="M327.1 258.11L576 445.65L576 -208L327.1 -208Z" fill="#ed9387"/>
<path d="M327.1 257.5L576 444.9L576 -208L327.1 -208Z" fill="#ef9688"/>
<path d="M327.1 256.89L576 444.16L576 -208L327.1 -208Z" fill="#f0988a"/>
<path d="M327.1 256.28L576 443.41L576 -208L327.1 -208Z" fill="#f19b8b"/>
<path d="M327.1 255.67L576 442.67L576 -208L327.1 -208Z" fill="#f39e8c"/>
<path d="M327.1 255.07L576 441.93L576 -208L327.1 -208Z" fill="#f5a28e"/>
<path d="M327.1 254.46L576 441.18L576 -208L327.1 -208Z" fill="#f6a58f"/>
<path d="M327.1 253.86L576 440.44L576 -208L327.1 -208Z" fill="#f7a891"/>
<path d="M327.1 253.26L576 439.7L576 -208L327.1 -208Z" fill="#f9aa92"/>
<path d="M327.1 252.65L576 438.96L576 -208L327.1 -208Z" fill="#f9ad93"/>
<path d="M327.1 252.05L576 438.23L576 -208L327.1 -208Z" fill="#f9b095"/>
<path d="M327.1 251.45L576 437.49L576 -208L327.1 -208Z" fill="#fab396"/>
<path d="M327.1 250.85L576 436.76L576 -208L327.1 -208Z" fill="#fab697"/>
<path d="M327.1 250.25L576 436.02L576 -208L327.1 -208Z" fill="#fbb999"/>
<path d="M327.1 249.66L576 435.29L576 -208L327.1 -208Z" fill="#fbbc9a"/>
<path d="M327.1 249.06L576 434.56L576 -208L327.1 -208Z" fill="#fbbf9c"/>
<path d="M327.1 248.46L576 433.83L576 -208L327.1 -208Z" fill="#fcc29d"/>
<path d="M327.1 247.87L576 433.1L576 -208L327.1 -208Z" fill="#fcc59e"/>
<path d="M327.1 247.27L576 432.37L576 -208L327.1 -208Z" fill="#fdc9a0"/>
<path d="M327.1 246.68L576 431.64L576 -208L327.1 -208Z" fill="#fdcca2"/>
<path d="M327.1 246.09L576 430.91L576 -208L327.1 -208Z" fill="#fecfa3"/>
<path d="M327.1 245.5L576 430.19L576 -208L327.1 -208Z" fill="#fed2a5"/>
<path d="M327.1 244.91L576 429.46L576 -208L327.1 -208Z" fill="#fed4a7"/>
<path d="M327.1 244.32L576 428.74L576 -208L327.1 -208Z" fill="#fed6a9"/>
<path d="M327.1 243.73L576 428.02L576 -208L327.1 -208Z" fill="#fed9ab"/>
<path d="M327.1 243.14L576 427.29L576 -208L327.1 -208Z" fill="#fedbae"/>
<path d="M327.1 242.55L576 426.57L576 -208L327.1 -208Z" fill="#feddb0"/>
<path d="M327.1 241.97L576 425.85L576 -208L327.1 -208Z" fill="#fedfb2"/>
<path d="M327.1 241.38L576 425.14L576 -208L327.1 -208Z" fill="#fee2b4"/>
<path d="M327.1 240.79L576 424.42L576 -208L327.1 -208Z" fill="#fee4b6"/>
<path d="M327.1 240.21L576 423.7L576 -208L327.1 -208Z" fill="#fee6b8"/>
<path d="M327.1 239.63L576 422.99L576 -208L327.1 -208Z" fill="#fee8ba"/>
<path d="M327.1 239.04L576 422.27L576 -208L327.1 -208Z" fill="#feecbe"/>
<path d="M327.1 238.46L576 421.56L576 -208L327.1 -208Z" fill="#feeec0"/>
<path d="M327.1 237.88L576 420.85L576 -208L327.1 -208Z" fill="#feefc2"/>
<path d="M327.1 237.3L576 420.14L576 -208L327.1 -208Z" fill="#fff1c4"/>
<path d="M327.1 236.72L576 419.43L576 -208L327.1 -208Z" fill="#fff2c6"/>
<path d="M327.1 236.15L576 418.72L576 -208L327.1 -208Z" fill="#fff3c8"/>
<path d="M327.1 235.57L576 418.01L576 -208L327.1 -208Z" fill="#fff5ca"/>
<path d="M327.1 234.99L576 417.3L576 -208L327.1 -208Z" fill="#fff6cd"/>
<path d="M327.1 234.42L576 416.6L576 -208L327.1 -208Z" fill="#fff8cf"/>
<path d="M327.1 233.84L576 415.89L576 -208L327.1 -208Z" fill="#fff9d1"/>
<path d="M327.1 233.27L576 415.19L576 -208L327.1 -208Z" fill="#fffad3"/>
<path d="M327.1 232.69L576 414.48L576 -208L327.1 -208Z" fill="#fffcd5"/>
<path d="M327.1 232.12L576 413.78L576 -208L327.1 -208Z" fill="#fffdd7"/>
<path d="M327.1 231.55L576 413.08L576 -208L327.1 -208Z" fill="#ffffdb"/>
<path d="M327.1 230.98L576 412.38L576 -208L327.1 -208Z" fill="#fdfedd"/>
<path d="M327.1 230.41L576 411.68L576 -208L327.1 -208Z" fill="#fcfee0"/>
<path d="M327.1 229.84L576 410.98L576 -208L327.1 -208Z" fill="#fafde2"/>
<path d="M327.1 229.27L576 410.29L576 -208L327.1 -208Z" fill="#f9fde5"/>
<path d="M327.1 228.7L576 409.59L576 -208L327.1 -208Z" fill="#f8fce7"/>
<path d="M327.1 228.14L576 408.89L576 -208L327.1 -208Z" fill="#f6fcea"/>
<path d="M327.1 227.57L576 408.2L576 -208L327.1 -208Z" fill="#f5fbed"/>
<path d="M327.1 227.01L576 407.51L576 -208L327.1 -208Z" fill="#f3faef"/>
<path d="M327.1 226.44L576 406.82L576 -208L327.1 -208Z" fill="#f2faf2"/>
<path d="M327.1 225.88L576 406.12L576 -208L327.1 -208Z" fill="#f1f9f4"/>
<path d="M327.1 225.32L576 405.43L576 -208L327.1 -208Z" fill="#eff9f7"/>
<path d="M327.1 224.75L576 404.74L576 -208L327.1 -208Z" fill="#eef8fa"/>
<path d="M327.1 224.19L576 404.06L576 -208L327.1 -208Z" fill="#ebf7fa"/>
<path d="M327.1 223.63L576 403.37L576 -208L327.1 -208Z" fill="#e8f6fa"/>
<path d="M327.1 223.07L576 402.68L576 -208L327.1 -208Z" fill="#e6f4f9"/>
<path d="M327.1 222.51L576 402L576 -208L327.1 -208Z" fill="#e3f3f8"/>
<path d="M327.1 221.96L576 401.31L576 -208L327.1 -208Z" fill="#e1f2f8"/>
<path d="M327.1 221.4L576 400.63L576 -208L327.1 -208Z" fill="#dff1f7"/>
<path d="M327.1 220.84L576 399.95L576 -208L327.1 -208Z" fill="#dcf0f6"/>
<path d="M327.1 220.29L576 399.27L576 -208L327.1 -208Z" fill="#daeff5"/>
<path d="M327.1 219.73L576 398.58L576 -208L327.1 -208Z" fill="#d7edf5"/>
<path d="M327.1 219.18L576 397.91L576 -208L327.1 -208Z" fill="#d5ecf4"/>
<path d="M327.1 218.62L576 397.23L576 -208L327.1 -208Z" fill="#d2ebf3"/>
<path d="M327.1 218.07L576 396.55L576 -208L327.1 -208Z" fill="#d0eaf3"/>
<path d="M327.1 217.52L576 395.87L576 -208L327.1 -208Z" fill="#cee8f2"/>
<path d="M327.1 216.97L576 395.2L576 -208L327.1 -208Z" fill="#cae5f0"/>
<path d="M327.1 216.42L576 394.52L576 -208L327.1 -208Z" fill="#c7e3ef"/>
<path d="M327.1 215.87L576 393.85L576 -208L327.1 -208Z" fill="#c5e1ee"/>
<path d="M327.1 215.32L576 393.17L576 -208L327.1 -208Z" fill="#c2dfed"/>
<path d="M327.1 214.77L576 392.5L576 -208L327.1 -208Z" fill="#c0ddec"/>
<path d="M327.1 214.22L576 391.83L576 -208L327.1 -208Z" fill="#bddbeb"/>
<path d="M327.1 213.68L576 391.16L576 -208L327.1 -208Z" fill="#bbd9ea"/>
<path d="M327.1 213.13L576 390.49L576 -208L327.1 -208Z" fill="#b8d7e9"/>
<path d="M327.1 212.59L576 389.82L576 -208L327.1 -208Z" fill="#b6d5e8"/>
<path d="M327.1 212.04L576 389.16L576 -208L327.1 -208Z" fill="#b3d3e7"/>
<path d="M327.1 211.5L576 388.49L576 -208L327.1 -208Z" fill="#b1d1e5"/>
<path d="M327.1 210.96L576 387.82L576 -208L327.1 -208Z" fill="#aecfe4"/>
<path d="M327.1 210.42L576 387.16L576 -208L327.1 -208Z" fill="#accde3"/>
<path d="M327.1 209.87L576 386.5L576 -208L327.1 -208Z" fill="#aacae2"/>
<path d="M327.1 209.33L576 385.83L576 -208L327.1 -208Z" fill="#a7c7e0"/>
<path d="M327.1 208.79L576 385.17L576 -208L327.1 -208Z" fill="#a5c4de"/>
<path d="M327.1 208.26L576 384.51L576 -208L327.1 -208Z" fill="#a3c1dd"/>
<path d="M327.1 207.72L576 383.85L576 -208L327.1 -208Z" fill="#a0bfdc"/>
<path d="M327.1 207.18L576 383.19L576 -208L327.1 -208Z" fill="#9ebcda"/>
<path d="M327.1 206.64L576 382.53L576 -208L327.1 -208Z" fill="#9cbad9"/>
<path d="M327.1 206.11L576 381.88L576 -208L327.1 -208Z" fill="#9ab7d8"/>
<path d="M327.1 205.57L576 381.22L576 -208L327.1 -208Z" fill="#98b5d6"/>
<path d="M327.1 205.04L576 380.56L576 -208L327.1 -208Z" fill="#96b2d5"/>
<path d="M327.1 204.5L576 379.91L576 -208L327.1 -208Z" fill="#94b0d4"/>
<path d="M327.1 203.97L576 379.26L576 -208L327.1 -208Z" fill="#92add2"/>
<path d="M327.1 203.44L576 378.6L576 -208L327.1 -208Z" fill="#92aad1"/>
<path d="M327.1 202.91L576 377.95L576 -208L327.1 -208Z" fill="#91a7d0"/>
<path d="M327.1 202.38L576 377.3L576 -208L327.1 -208Z" fill="#91a4ce"/>
<path d="M327.1 201.85L576 376.65L576 -208L327.1 -208Z" fill="#92a3ce"/>
<path d="M327.1 201.32L576 376L576 -208L327.1 -208Z" fill="#93a2cd"/>
<path d="M327.1 200.79L576 375.35L576 -208L327.1 -208Z" fill="#94a0cd"/>
<path d="M327.1 200.26L576 374.71L576 -208L327.1 -208Z" fill="#949fcc"/>
<path d="M327.1 199.73L576 374.06L576 -208L327.1 -208Z" fill="#959ecc"/>
<path d="M327.1 199.21L576 373.41L576 -208L327.1 -208Z" fill="#969cca"/>
<path d="M327.1 198.68L576 372.77L576 -208L327.1 -208Z" fill="#979bca"/>
<path d="M327.1 198.16L576 372.13L576 -208L327.1 -208Z" fill="#979aca"/>
<path d="M327.1 197.63L576 371.48L576 -208L327.1 -208Z" fill="#989aca"/>
</g>
<g stroke="rgba(60,60,90,0.10)" stroke-width="0.8">
<line x1="332.5" y1="192" x2="332.5" y2="360.8"/>
<line x1="374.98" y1="192" x2="374.98" y2="360.8"/>
<line x1="417.46" y1="192" x2="417.46" y2="360.8"/>
<line x1="459.94" y1="192" x2="459.94" y2="360.8"/>
<line x1="502.42" y1="192" x2="502.42" y2="360.8"/>
<line x1="544.9" y1="192" x2="544.9" y2="360.8"/>
<line x1="329.1" y1="206.04" x2="574" y2="206.04"/>
<line x1="329.1" y1="228.86" x2="574" y2="228.86"/>
<line x1="329.1" y1="251.69" x2="574" y2="251.69"/>
<line x1="329.1" y1="274.52" x2="574" y2="274.52"/>
<line x1="329.1" y1="297.34" x2="574" y2="297.34"/>
<line x1="329.1" y1="320.17" x2="574" y2="320.17"/>
<line x1="329.1" y1="343" x2="574" y2="343"/>
</g>
<g clip-path="url(#clip_c)" stroke="#4a7a95" stroke-width="0.65" stroke-opacity="0.6" fill="none">
<line x1="329.1" y1="263.5" x2="574" y2="448.89"/>
<line x1="329.1" y1="257.16" x2="574" y2="441.14"/>
<line x1="329.1" y1="250.92" x2="574" y2="433.51"/>
<line x1="329.1" y1="244.76" x2="574" y2="425.99"/>
<line x1="329.1" y1="238.71" x2="574" y2="418.59"/>
<line x1="329.1" y1="232.74" x2="574" y2="411.29"/>
<line x1="329.1" y1="226.85" x2="574" y2="404.1"/>
<line x1="329.1" y1="221.06" x2="574" y2="397.01"/>
<line x1="329.1" y1="215.34" x2="574" y2="390.03"/>
<line x1="329.1" y1="209.71" x2="574" y2="383.15"/>
<line x1="329.1" y1="204.16" x2="574" y2="376.36"/>
</g>
<clipPath id="clip_d"><rect x="36" y="385" width="245" height="169"/></clipPath>
<g clip-path="url(#clip_d)">
<rect x="36" y="385" width="245" height="169" fill="#d28092"/>
<path d="M34.2 466.53L283.4 658.26L283.4 -15.4L34.2 -15.4Z" fill="#d28092"/>
<path d="M34.2 449.6L283.4 637.5L283.4 -15.4L34.2 -15.4Z" fill="#e08d93"/>
<path d="M34.2 449.11L283.4 636.9L283.4 -15.4L34.2 -15.4Z" fill="#e58482"/>
<path d="M34.2 448.62L283.4 636.31L283.4 -15.4L34.2 -15.4Z" fill="#e88882"/>
<path d="M34.2 448.14L283.4 635.71L283.4 -15.4L34.2 -15.4Z" fill="#eb8d85"/>
<path d="M34.2 447.65L283.4 635.11L283.4 -15.4L34.2 -15.4Z" fill="#ed9186"/>
<path d="M34.2 447.17L283.4 634.52L283.4 -15.4L34.2 -15.4Z" fill="#ef9789"/>
<path d="M34.2 446.68L283.4 633.92L283.4 -15.4L34.2 -15.4Z" fill="#f19b8b"/>
<path d="M34.2 446.2L283.4 633.33L283.4 -15.4L34.2 -15.4Z" fill="#f4a18e"/>
<path d="M34.2 445.71L283.4 632.74L283.4 -15.4L34.2 -15.4Z" fill="#f6a58f"/>
<path d="M34.2 445.23L283.4 632.14L283.4 -15.4L34.2 -15.4Z" fill="#f9aa92"/>
<path d="M34.2 444.75L283.4 631.55L283.4 -15.4L34.2 -15.4Z" fill="#f9af94"/>
<path d="M34.2 444.27L283.4 630.96L283.4 -15.4L34.2 -15.4Z" fill="#fab597"/>
<path d="M34.2 443.78L283.4 630.37L283.4 -15.4L34.2 -15.4Z" fill="#fbb999"/>
<path d="M34.2 443.3L283.4 629.78L283.4 -15.4L34.2 -15.4Z" fill="#fbbf9c"/>
<path d="M34.2 442.82L283.4 629.19L283.4 -15.4L34.2 -15.4Z" fill="#fcc39e"/>
<path d="M34.2 442.34L283.4 628.6L283.4 -15.4L34.2 -15.4Z" fill="#fdc8a0"/>
<path d="M34.2 441.86L283.4 628.02L283.4 -15.4L34.2 -15.4Z" fill="#fdcca2"/>
<path d="M34.2 441.39L283.4 627.43L283.4 -15.4L34.2 -15.4Z" fill="#fed2a5"/>
<path d="M34.2 440.91L283.4 626.84L283.4 -15.4L34.2 -15.4Z" fill="#fed5a8"/>
<path d="M34.2 440.43L283.4 626.26L283.4 -15.4L34.2 -15.4Z" fill="#fed9ab"/>
<path d="M34.2 439.95L283.4 625.67L283.4 -15.4L34.2 -15.4Z" fill="#feddb0"/>
<path d="M34.2 439.48L283.4 625.09L283.4 -15.4L34.2 -15.4Z" fill="#fee1b3"/>
<path d="M34.2 439L283.4 624.51L283.4 -15.4L34.2 -15.4Z" fill="#fee3b5"/>
<path d="M34.2 438.53L283.4 623.92L283.4 -15.4L34.2 -15.4Z" fill="#fee6b8"/>
<path d="M34.2 438.05L283.4 623.34L283.4 -15.4L34.2 -15.4Z" fill="#feeabb"/>
<path d="M34.2 437.58L283.4 622.76L283.4 -15.4L34.2 -15.4Z" fill="#feedbf"/>
<path d="M34.2 437.1L283.4 622.18L283.4 -15.4L34.2 -15.4Z" fill="#feeec1"/>
<path d="M34.2 436.63L283.4 621.6L283.4 -15.4L34.2 -15.4Z" fill="#fff1c4"/>
<path d="M34.2 436.16L283.4 621.02L283.4 -15.4L34.2 -15.4Z" fill="#fff3c7"/>
<path d="M34.2 435.69L283.4 620.44L283.4 -15.4L34.2 -15.4Z" fill="#fff4c9"/>
<path d="M34.2 435.22L283.4 619.86L283.4 -15.4L34.2 -15.4Z" fill="#fff6cd"/>
<path d="M34.2 434.74L283.4 619.28L283.4 -15.4L34.2 -15.4Z" fill="#fff8d0"/>
<path d="M34.2 434.27L283.4 618.71L283.4 -15.4L34.2 -15.4Z" fill="#fffad2"/>
<path d="M34.2 433.8L283.4 618.13L283.4 -15.4L34.2 -15.4Z" fill="#fffcd5"/>
<path d="M34.2 433.34L283.4 617.56L283.4 -15.4L34.2 -15.4Z" fill="#fffdd7"/>
<path d="M34.2 432.87L283.4 616.98L283.4 -15.4L34.2 -15.4Z" fill="#ffffdb"/>
<path d="M34.2 432.4L283.4 616.41L283.4 -15.4L34.2 -15.4Z" fill="#fdfede"/>
<path d="M34.2 431.93L283.4 615.83L283.4 -15.4L34.2 -15.4Z" fill="#fbfde1"/>
<path d="M34.2 431.46L283.4 615.26L283.4 -15.4L34.2 -15.4Z" fill="#f9fde5"/>
<path d="M34.2 431L283.4 614.69L283.4 -15.4L34.2 -15.4Z" fill="#f8fce7"/>
<path d="M34.2 430.53L283.4 614.12L283.4 -15.4L34.2 -15.4Z" fill="#f6fcea"/>
<path d="M34.2 430.07L283.4 613.55L283.4 -15.4L34.2 -15.4Z" fill="#f5fbed"/>
<path d="M34.2 429.6L283.4 612.97L283.4 -15.4L34.2 -15.4Z" fill="#f3faef"/>
<path d="M34.2 429.14L283.4 612.41L283.4 -15.4L34.2 -15.4Z" fill="#f2faf2"/>
<path d="M34.2 428.67L283.4 611.84L283.4 -15.4L34.2 -15.4Z" fill="#f1f9f4"/>
<path d="M34.2 428.21L283.4 611.27L283.4 -15.4L34.2 -15.4Z" fill="#eff9f7"/>
<path d="M34.2 427.75L283.4 610.7L283.4 -15.4L34.2 -15.4Z" fill="#eef8fa"/>
<path d="M34.2 427.28L283.4 610.13L283.4 -15.4L34.2 -15.4Z" fill="#ecf7fb"/>
<path d="M34.2 426.82L283.4 609.57L283.4 -15.4L34.2 -15.4Z" fill="#ebf7fa"/>
<path d="M34.2 426.36L283.4 609L283.4 -15.4L34.2 -15.4Z" fill="#e8f6fa"/>
<path d="M34.2 425.9L283.4 608.44L283.4 -15.4L34.2 -15.4Z" fill="#e6f4f9"/>
<path d="M34.2 425.44L283.4 607.87L283.4 -15.4L34.2 -15.4Z" fill="#e3f3f8"/>
<path d="M34.2 424.98L283.4 607.31L283.4 -15.4L34.2 -15.4Z" fill="#e2f3f8"/>
<path d="M34.2 424.52L283.4 606.75L283.4 -15.4L34.2 -15.4Z" fill="#e1f2f8"/>
<path d="M34.2 424.06L283.4 606.18L283.4 -15.4L34.2 -15.4Z" fill="#e0f2f7"/>
<path d="M34.2 423.6L283.4 605.62L283.4 -15.4L34.2 -15.4Z" fill="#dff1f7"/>
<path d="M34.2 423.15L283.4 605.06L283.4 -15.4L34.2 -15.4Z" fill="#ddf0f7"/>
<path d="M34.2 422.69L283.4 604.5L283.4 -15.4L34.2 -15.4Z" fill="#dbeff6"/>
<path d="M34.2 422.23L283.4 603.94L283.4 -15.4L34.2 -15.4Z" fill="#daeff5"/>
<path d="M34.2 421.78L283.4 603.38L283.4 -15.4L34.2 -15.4Z" fill="#d9eef5"/>
<path d="M34.2 421.32L283.4 602.82L283.4 -15.4L34.2 -15.4Z" fill="#d7edf5"/>
<path d="M34.2 420.87L283.4 602.26L283.4 -15.4L34.2 -15.4Z" fill="#d6edf4"/>
<path d="M34.2 420.41L283.4 601.71L283.4 -15.4L34.2 -15.4Z" fill="#d5ecf4"/>
<path d="M34.2 419.96L283.4 601.15L283.4 -15.4L34.2 -15.4Z" fill="#d4ecf4"/>
<path d="M34.2 419.51L283.4 600.59L283.4 -15.4L34.2 -15.4Z" fill="#d1eaf3"/>
<path d="M34.2 419.05L283.4 600.04L283.4 -15.4L34.2 -15.4Z" fill="#d0eaf3"/>
<path d="M34.2 418.6L283.4 599.48L283.4 -15.4L34.2 -15.4Z" fill="#cfe9f2"/>
<path d="M34.2 418.15L283.4 598.93L283.4 -15.4L34.2 -15.4Z" fill="#cee8f2"/>
<path d="M34.2 417.7L283.4 598.38L283.4 -15.4L34.2 -15.4Z" fill="#cce7f1"/>
<path d="M34.2 417.25L283.4 597.82L283.4 -15.4L34.2 -15.4Z" fill="#cbe6f1"/>
<path d="M34.2 416.8L283.4 597.27L283.4 -15.4L34.2 -15.4Z" fill="#cae5f0"/>
<path d="M34.2 416.35L283.4 596.72L283.4 -15.4L34.2 -15.4Z" fill="#c9e4f0"/>
<path d="M34.2 415.9L283.4 596.17L283.4 -15.4L34.2 -15.4Z" fill="#c7e3ef"/>
<path d="M34.2 415.45L283.4 595.62L283.4 -15.4L34.2 -15.4Z" fill="#c6e2ef"/>
<path d="M34.2 415L283.4 595.07L283.4 -15.4L34.2 -15.4Z" fill="#c5e1ee"/>
<path d="M34.2 414.55L283.4 594.52L283.4 -15.4L34.2 -15.4Z" fill="#c4e0ee"/>
<path d="M34.2 414.1L283.4 593.97L283.4 -15.4L34.2 -15.4Z" fill="#c2dfed"/>
<path d="M34.2 413.66L283.4 593.42L283.4 -15.4L34.2 -15.4Z" fill="#c1deed"/>
<path d="M34.2 413.21L283.4 592.87L283.4 -15.4L34.2 -15.4Z" fill="#c0ddec"/>
<path d="M34.2 412.77L283.4 592.33L283.4 -15.4L34.2 -15.4Z" fill="#bfdceb"/>
<path d="M34.2 412.32L283.4 591.78L283.4 -15.4L34.2 -15.4Z" fill="#bddbeb"/>
<path d="M34.2 411.88L283.4 591.24L283.4 -15.4L34.2 -15.4Z" fill="#bcdaea"/>
<path d="M34.2 410.99L283.4 590.15L283.4 -15.4L34.2 -15.4Z" fill="#bbd9ea"/>
<path d="M34.2 410.54L283.4 589.6L283.4 -15.4L34.2 -15.4Z" fill="#bad8e9"/>
<path d="M34.2 410.1L283.4 589.06L283.4 -15.4L34.2 -15.4Z" fill="#b8d7e9"/>
<path d="M34.2 409.66L283.4 588.52L283.4 -15.4L34.2 -15.4Z" fill="#b7d6e8"/>
<path d="M34.2 409.22L283.4 587.98L283.4 -15.4L34.2 -15.4Z" fill="#b6d5e8"/>
<path d="M34.2 408.78L283.4 587.43L283.4 -15.4L34.2 -15.4Z" fill="#b5d4e7"/>
<path d="M34.2 408.33L283.4 586.89L283.4 -15.4L34.2 -15.4Z" fill="#b3d3e7"/>
<path d="M34.2 407.89L283.4 586.35L283.4 -15.4L34.2 -15.4Z" fill="#b2d2e6"/>
<path d="M34.2 407.45L283.4 585.81L283.4 -15.4L34.2 -15.4Z" fill="#b1d1e5"/>
<path d="M34.2 407.02L283.4 585.27L283.4 -15.4L34.2 -15.4Z" fill="#b0d0e5"/>
<path d="M34.2 406.14L283.4 584.2L283.4 -15.4L34.2 -15.4Z" fill="#aecfe4"/>
<path d="M34.2 405.7L283.4 583.66L283.4 -15.4L34.2 -15.4Z" fill="#adcee4"/>
<path d="M34.2 405.26L283.4 583.13L283.4 -15.4L34.2 -15.4Z" fill="#accde3"/>
<path d="M34.2 404.83L283.4 582.59L283.4 -15.4L34.2 -15.4Z" fill="#abcce2"/>
<path d="M34.2 404.39L283.4 582.05L283.4 -15.4L34.2 -15.4Z" fill="#aacae2"/>
<path d="M34.2 403.95L283.4 581.52L283.4 -15.4L34.2 -15.4Z" fill="#a9c9e1"/>
<path d="M34.2 403.52L283.4 580.99L283.4 -15.4L34.2 -15.4Z" fill="#a8c8e0"/>
<path d="M34.2 403.08L283.4 580.45L283.4 -15.4L34.2 -15.4Z" fill="#a7c7e0"/>
<path d="M34.2 402.65L283.4 579.92L283.4 -15.4L34.2 -15.4Z" fill="#a6c5df"/>
<path d="M34.2 402.21L283.4 579.39L283.4 -15.4L34.2 -15.4Z" fill="#a5c4de"/>
<path d="M34.2 401.78L283.4 578.86L283.4 -15.4L34.2 -15.4Z" fill="#a4c3de"/>
<path d="M34.2 401.35L283.4 578.32L283.4 -15.4L34.2 -15.4Z" fill="#a3c1dd"/>
<path d="M34.2 400.92L283.4 577.79L283.4 -15.4L34.2 -15.4Z" fill="#a2c0dc"/>
<path d="M34.2 400.48L283.4 577.26L283.4 -15.4L34.2 -15.4Z" fill="#a0bfdc"/>
<path d="M34.2 400.05L283.4 576.73L283.4 -15.4L34.2 -15.4Z" fill="#9fbedb"/>
<path d="M34.2 399.62L283.4 576.21L283.4 -15.4L34.2 -15.4Z" fill="#9ebcda"/>
<path d="M34.2 399.19L283.4 575.68L283.4 -15.4L34.2 -15.4Z" fill="#9dbbda"/>
<path d="M34.2 398.76L283.4 575.15L283.4 -15.4L34.2 -15.4Z" fill="#9cbad9"/>
<path d="M34.2 398.33L283.4 574.62L283.4 -15.4L34.2 -15.4Z" fill="#9bb9d8"/>
<path d="M34.2 397.47L283.4 573.57L283.4 -15.4L34.2 -15.4Z" fill="#9ab7d8"/>
<path d="M34.2 397.04L283.4 573.05L283.4 -15.4L34.2 -15.4Z" fill="#99b6d7"/>
<path d="M34.2 396.62L283.4 572.52L283.4 -15.4L34.2 -15.4Z" fill="#98b5d6"/>
<path d="M34.2 396.19L283.4 572L283.4 -15.4L34.2 -15.4Z" fill="#97b3d6"/>
<path d="M34.2 395.76L283.4 571.47L283.4 -15.4L34.2 -15.4Z" fill="#96b2d5"/>
<path d="M34.2 395.34L283.4 570.95L283.4 -15.4L34.2 -15.4Z" fill="#95b1d4"/>
<path d="M34.2 394.91L283.4 570.43L283.4 -15.4L34.2 -15.4Z" fill="#94b0d4"/>
<path d="M34.2 394.48L283.4 569.91L283.4 -15.4L34.2 -15.4Z" fill="#93aed3"/>
<path d="M34.2 394.06L283.4 569.38L283.4 -15.4L34.2 -15.4Z" fill="#93add3"/>
<path d="M34.2 393.63L283.4 568.86L283.4 -15.4L34.2 -15.4Z" fill="#94aed3"/>
<path d="M34.2 393.21L283.4 568.34L283.4 -15.4L34.2 -15.4Z" fill="#94add2"/>
<path d="M34.2 392.79L283.4 567.82L283.4 -15.4L34.2 -15.4Z" fill="#94acd2"/>
<path d="M34.2 391.94L283.4 566.79L283.4 -15.4L34.2 -15.4Z" fill="#94abd2"/>
<path d="M34.2 391.52L283.4 566.27L283.4 -15.4L34.2 -15.4Z" fill="#95acd2"/>
<path d="M34.2 391.1L283.4 565.75L283.4 -15.4L34.2 -15.4Z" fill="#95abd2"/>
<path d="M34.2 390.68L283.4 565.23L283.4 -15.4L34.2 -15.4Z" fill="#95aad1"/>
<path d="M34.2 390.25L283.4 564.72L283.4 -15.4L34.2 -15.4Z" fill="#96aad1"/>
<path d="M34.2 389.83L283.4 564.2L283.4 -15.4L34.2 -15.4Z" fill="#96a9d1"/>
<path d="M34.2 389.41L283.4 563.69L283.4 -15.4L34.2 -15.4Z" fill="#96a8d0"/>
<path d="M34.2 388.99L283.4 563.17L283.4 -15.4L34.2 -15.4Z" fill="#96a9d1"/>
<path d="M34.2 388.58L283.4 562.66L283.4 -15.4L34.2 -15.4Z" fill="#97a8d0"/>
<path d="M34.2 388.16L283.4 562.15L283.4 -15.4L34.2 -15.4Z" fill="#97a8d1"/>
<path d="M34.2 387.74L283.4 561.63L283.4 -15.4L34.2 -15.4Z" fill="#97a7d0"/>
<path d="M34.2 386.9L283.4 560.61L283.4 -15.4L34.2 -15.4Z" fill="#98a7d0"/>
<path d="M34.2 386.49L283.4 560.1L283.4 -15.4L34.2 -15.4Z" fill="#98a6d0"/>
<path d="M34.2 386.07L283.4 559.59L283.4 -15.4L34.2 -15.4Z" fill="#98a5cf"/>
<path d="M34.2 385.66L283.4 559.08L283.4 -15.4L34.2 -15.4Z" fill="#99a6cf"/>
<path d="M34.2 385.24L283.4 558.57L283.4 -15.4L34.2 -15.4Z" fill="#99a5cf"/>
<path d="M34.2 384.83L283.4 558.06L283.4 -15.4L34.2 -15.4Z" fill="#99a6cf"/>
<path d="M34.2 384.41L283.4 557.55L283.4 -15.4L34.2 -15.4Z" fill="#9aa5cf"/>
<path d="M34.2 384L283.4 557.04L283.4 -15.4L34.2 -15.4Z" fill="#9aa4cf"/>
<path d="M34.2 382.76L283.4 555.52L283.4 -15.4L34.2 -15.4Z" fill="#9ba3ce"/>
</g>
<g stroke="rgba(60,60,90,0.10)" stroke-width="0.8">
<line x1="39.6" y1="384.6" x2="39.6" y2="554"/>
<line x1="82.14" y1="384.6" x2="82.14" y2="554"/>
<line x1="124.67" y1="384.6" x2="124.67" y2="554"/>
<line x1="167.2" y1="384.6" x2="167.2" y2="554"/>
<line x1="209.73" y1="384.6" x2="209.73" y2="554"/>
<line x1="252.27" y1="384.6" x2="252.27" y2="554"/>
<line x1="36.2" y1="398.69" x2="281.4" y2="398.69"/>
<line x1="36.2" y1="421.6" x2="281.4" y2="421.6"/>
<line x1="36.2" y1="444.5" x2="281.4" y2="444.5"/>
<line x1="36.2" y1="467.41" x2="281.4" y2="467.41"/>
<line x1="36.2" y1="490.32" x2="281.4" y2="490.32"/>
<line x1="36.2" y1="513.22" x2="281.4" y2="513.22"/>
<line x1="36.2" y1="536.13" x2="281.4" y2="536.13"/>
</g>
<g clip-path="url(#clip_d)" stroke="#3f7fae" stroke-width="0.65" stroke-opacity="0.65" fill="none">
<line x1="36.2" y1="450.73" x2="281.4" y2="635.54"/>
<line x1="36.2" y1="447.49" x2="281.4" y2="631.57"/>
<line x1="36.2" y1="444.27" x2="281.4" y2="627.64"/>
<line x1="36.2" y1="440.85" x2="281.4" y2="623.46"/>
<line x1="36.2" y1="436.79" x2="281.4" y2="618.49"/>
<line x1="36.2" y1="432.54" x2="281.4" y2="613.29"/>
<line x1="36.2" y1="427.01" x2="281.4" y2="606.54"/>
<line x1="36.2" y1="417.69" x2="281.4" y2="595.14"/>
<line x1="36.2" y1="406.27" x2="281.4" y2="581.19"/>
<line x1="36.2" y1="395.79" x2="281.4" y2="568.37"/>
</g>
<clipPath id="clip_e"><rect x="329" y="384" width="245" height="170"/></clipPath>
<g clip-path="url(#clip_e)">
<rect x="329" y="384" width="245" height="170" fill="#d28092"/>
<path d="M326.7 466.13L576.1 657.64L576.1 -15.7L326.7 -15.7Z" fill="#d28092"/>
<path d="M326.7 449.44L576.1 637.17L576.1 -15.7L326.7 -15.7Z" fill="#e79393"/>
<path d="M326.7 448.92L576.1 636.52L576.1 -15.7L326.7 -15.7Z" fill="#e89493"/>
<path d="M326.7 448.39L576.1 635.88L576.1 -15.7L326.7 -15.7Z" fill="#eb9793"/>
<path d="M326.7 447.86L576.1 635.23L576.1 -15.7L326.7 -15.7Z" fill="#ed9c95"/>
<path d="M326.7 447.34L576.1 634.59L576.1 -15.7L326.7 -15.7Z" fill="#ef9f97"/>
<path d="M326.7 446.81L576.1 633.95L576.1 -15.7L326.7 -15.7Z" fill="#f1a499"/>
<path d="M326.7 446.29L576.1 633.3L576.1 -15.7L326.7 -15.7Z" fill="#f3a89a"/>
<path d="M326.7 445.77L576.1 632.66L576.1 -15.7L326.7 -15.7Z" fill="#f4ab9c"/>
<path d="M326.7 445.24L576.1 632.02L576.1 -15.7L326.7 -15.7Z" fill="#f7b09e"/>
<path d="M326.7 444.72L576.1 631.38L576.1 -15.7L326.7 -15.7Z" fill="#f8b4a0"/>
<path d="M326.7 444.2L576.1 630.74L576.1 -15.7L326.7 -15.7Z" fill="#fab7a2"/>
<path d="M326.7 443.68L576.1 630.1L576.1 -15.7L326.7 -15.7Z" fill="#fabca4"/>
<path d="M326.7 443.16L576.1 629.46L576.1 -15.7L326.7 -15.7Z" fill="#fbc0a6"/>
<path d="M326.7 442.64L576.1 628.83L576.1 -15.7L326.7 -15.7Z" fill="#fbc4a7"/>
<path d="M326.7 442.12L576.1 628.19L576.1 -15.7L326.7 -15.7Z" fill="#fcc9aa"/>
<path d="M326.7 441.6L576.1 627.56L576.1 -15.7L326.7 -15.7Z" fill="#fdcdac"/>
<path d="M326.7 441.08L576.1 626.92L576.1 -15.7L326.7 -15.7Z" fill="#fdd1ad"/>
<path d="M326.7 440.57L576.1 626.29L576.1 -15.7L326.7 -15.7Z" fill="#fed5af"/>
<path d="M326.7 440.05L576.1 625.65L576.1 -15.7L326.7 -15.7Z" fill="#fed8b1"/>
<path d="M326.7 439.54L576.1 625.02L576.1 -15.7L326.7 -15.7Z" fill="#fedcb5"/>
<path d="M326.7 439.02L576.1 624.39L576.1 -15.7L326.7 -15.7Z" fill="#fedfb8"/>
<path d="M326.7 438.51L576.1 623.76L576.1 -15.7L326.7 -15.7Z" fill="#fee2bb"/>
<path d="M326.7 437.99L576.1 623.13L576.1 -15.7L326.7 -15.7Z" fill="#fee5bd"/>
<path d="M326.7 437.48L576.1 622.5L576.1 -15.7L326.7 -15.7Z" fill="#fee8c0"/>
<path d="M326.7 436.97L576.1 621.87L576.1 -15.7L326.7 -15.7Z" fill="#feebc3"/>
<path d="M326.7 436.46L576.1 621.24L576.1 -15.7L326.7 -15.7Z" fill="#feeec6"/>
<path d="M326.7 435.95L576.1 620.62L576.1 -15.7L326.7 -15.7Z" fill="#fff0c8"/>
<path d="M326.7 435.44L576.1 619.99L576.1 -15.7L326.7 -15.7Z" fill="#fff1ca"/>
<path d="M326.7 434.93L576.1 619.37L576.1 -15.7L326.7 -15.7Z" fill="#fff3cd"/>
<path d="M326.7 434.42L576.1 618.74L576.1 -15.7L326.7 -15.7Z" fill="#fff5d0"/>
<path d="M326.7 433.91L576.1 618.12L576.1 -15.7L326.7 -15.7Z" fill="#fff7d3"/>
<path d="M326.7 433.4L576.1 617.5L576.1 -15.7L326.7 -15.7Z" fill="#fff8d4"/>
<path d="M326.7 432.89L576.1 616.87L576.1 -15.7L326.7 -15.7Z" fill="#fffad7"/>
<path d="M326.7 432.39L576.1 616.25L576.1 -15.7L326.7 -15.7Z" fill="#fffcda"/>
<path d="M326.7 431.88L576.1 615.63L576.1 -15.7L326.7 -15.7Z" fill="#fffddc"/>
<path d="M326.7 431.38L576.1 615.01L576.1 -15.7L326.7 -15.7Z" fill="#ffffdf"/>
<path d="M326.7 430.87L576.1 614.39L576.1 -15.7L326.7 -15.7Z" fill="#feffe1"/>
<path d="M326.7 430.37L576.1 613.78L576.1 -15.7L326.7 -15.7Z" fill="#fcfee4"/>
<path d="M326.7 429.86L576.1 613.16L576.1 -15.7L326.7 -15.7Z" fill="#fbfde6"/>
<path d="M326.7 429.36L576.1 612.54L576.1 -15.7L326.7 -15.7Z" fill="#fafde8"/>
<path d="M326.7 428.86L576.1 611.93L576.1 -15.7L326.7 -15.7Z" fill="#f8fcec"/>
<path d="M326.7 428.36L576.1 611.31L576.1 -15.7L326.7 -15.7Z" fill="#f7fcee"/>
<path d="M326.7 427.86L576.1 610.7L576.1 -15.7L326.7 -15.7Z" fill="#f6fbf0"/>
<path d="M326.7 427.36L576.1 610.08L576.1 -15.7L326.7 -15.7Z" fill="#f4fbf3"/>
<path d="M326.7 426.86L576.1 609.47L576.1 -15.7L326.7 -15.7Z" fill="#f3faf5"/>
<path d="M326.7 426.36L576.1 608.86L576.1 -15.7L326.7 -15.7Z" fill="#f2faf7"/>
<path d="M326.7 425.86L576.1 608.25L576.1 -15.7L326.7 -15.7Z" fill="#f1f9f9"/>
<path d="M326.7 425.36L576.1 607.64L576.1 -15.7L326.7 -15.7Z" fill="#f0f9fb"/>
<path d="M326.7 424.86L576.1 607.03L576.1 -15.7L326.7 -15.7Z" fill="#edf8fb"/>
<path d="M326.7 424.37L576.1 606.42L576.1 -15.7L326.7 -15.7Z" fill="#ebf7fa"/>
<path d="M326.7 423.87L576.1 605.81L576.1 -15.7L326.7 -15.7Z" fill="#e9f6fa"/>
<path d="M326.7 423.38L576.1 605.2L576.1 -15.7L326.7 -15.7Z" fill="#e7f5f9"/>
<path d="M326.7 422.88L576.1 604.6L576.1 -15.7L326.7 -15.7Z" fill="#e5f4f9"/>
<path d="M326.7 422.39L576.1 603.99L576.1 -15.7L326.7 -15.7Z" fill="#e3f3f8"/>
<path d="M326.7 421.89L576.1 603.38L576.1 -15.7L326.7 -15.7Z" fill="#e2f2f8"/>
<path d="M326.7 421.4L576.1 602.78L576.1 -15.7L326.7 -15.7Z" fill="#e0f1f7"/>
<path d="M326.7 420.91L576.1 602.18L576.1 -15.7L326.7 -15.7Z" fill="#def0f6"/>
<path d="M326.7 420.42L576.1 601.57L576.1 -15.7L326.7 -15.7Z" fill="#ddf0f6"/>
<path d="M326.7 419.93L576.1 600.97L576.1 -15.7L326.7 -15.7Z" fill="#dbeff6"/>
<path d="M326.7 419.44L576.1 600.37L576.1 -15.7L326.7 -15.7Z" fill="#daeef5"/>
<path d="M326.7 418.95L576.1 599.77L576.1 -15.7L326.7 -15.7Z" fill="#d8edf5"/>
<path d="M326.7 418.46L576.1 599.17L576.1 -15.7L326.7 -15.7Z" fill="#d7edf4"/>
<path d="M326.7 417.97L576.1 598.57L576.1 -15.7L326.7 -15.7Z" fill="#d6ecf4"/>
<path d="M326.7 417.48L576.1 597.97L576.1 -15.7L326.7 -15.7Z" fill="#d3ebf3"/>
<path d="M326.7 416.99L576.1 597.37L576.1 -15.7L326.7 -15.7Z" fill="#d2eaf3"/>
<path d="M326.7 416.51L576.1 596.78L576.1 -15.7L326.7 -15.7Z" fill="#d1e9f2"/>
<path d="M326.7 416.02L576.1 596.18L576.1 -15.7L326.7 -15.7Z" fill="#cfe7f1"/>
<path d="M326.7 415.53L576.1 595.58L576.1 -15.7L326.7 -15.7Z" fill="#cee6f1"/>
<path d="M326.7 415.05L576.1 594.99L576.1 -15.7L326.7 -15.7Z" fill="#cde6f0"/>
<path d="M326.7 414.56L576.1 594.39L576.1 -15.7L326.7 -15.7Z" fill="#cce5f0"/>
<path d="M326.7 414.08L576.1 593.8L576.1 -15.7L326.7 -15.7Z" fill="#cbe4f0"/>
<path d="M326.7 413.6L576.1 593.21L576.1 -15.7L326.7 -15.7Z" fill="#cae3ef"/>
<path d="M326.7 413.11L576.1 592.62L576.1 -15.7L326.7 -15.7Z" fill="#c9e2ef"/>
<path d="M326.7 412.63L576.1 592.02L576.1 -15.7L326.7 -15.7Z" fill="#c8e1ee"/>
<path d="M326.7 412.15L576.1 591.43L576.1 -15.7L326.7 -15.7Z" fill="#c6e0ee"/>
<path d="M326.7 411.67L576.1 590.84L576.1 -15.7L326.7 -15.7Z" fill="#c5dfed"/>
<path d="M326.7 411.19L576.1 590.25L576.1 -15.7L326.7 -15.7Z" fill="#c4dfed"/>
<path d="M326.7 410.71L576.1 589.67L576.1 -15.7L326.7 -15.7Z" fill="#c3deec"/>
<path d="M326.7 410.23L576.1 589.08L576.1 -15.7L326.7 -15.7Z" fill="#c2ddec"/>
<path d="M326.7 409.75L576.1 588.49L576.1 -15.7L326.7 -15.7Z" fill="#c1dceb"/>
<path d="M326.7 409.27L576.1 587.9L576.1 -15.7L326.7 -15.7Z" fill="#c0dbeb"/>
<path d="M326.7 408.8L576.1 587.32L576.1 -15.7L326.7 -15.7Z" fill="#bfdaea"/>
<path d="M326.7 408.32L576.1 586.73L576.1 -15.7L326.7 -15.7Z" fill="#bed9ea"/>
<path d="M326.7 407.37L576.1 585.57L576.1 -15.7L326.7 -15.7Z" fill="#bdd9e9"/>
<path d="M326.7 406.89L576.1 584.98L576.1 -15.7L326.7 -15.7Z" fill="#bcd8e9"/>
<path d="M326.7 406.42L576.1 584.4L576.1 -15.7L326.7 -15.7Z" fill="#bbd7e8"/>
<path d="M326.7 405.47L576.1 583.24L576.1 -15.7L326.7 -15.7Z" fill="#bad6e8"/>
<path d="M326.7 405L576.1 582.66L576.1 -15.7L326.7 -15.7Z" fill="#b9d5e7"/>
<path d="M326.7 404.05L576.1 581.5L576.1 -15.7L326.7 -15.7Z" fill="#b8d4e7"/>
<path d="M326.7 403.11L576.1 580.35L576.1 -15.7L326.7 -15.7Z" fill="#b7d3e6"/>
<path d="M326.7 402.64L576.1 579.77L576.1 -15.7L326.7 -15.7Z" fill="#b6d2e6"/>
<path d="M326.7 401.7L576.1 578.62L576.1 -15.7L326.7 -15.7Z" fill="#b5d1e5"/>
<path d="M326.7 400.77L576.1 577.47L576.1 -15.7L326.7 -15.7Z" fill="#b4cfe5"/>
<path d="M326.7 399.83L576.1 576.33L576.1 -15.7L326.7 -15.7Z" fill="#b3cee4"/>
<path d="M326.7 398.43L576.1 574.61L576.1 -15.7L326.7 -15.7Z" fill="#b2cde3"/>
<path d="M326.7 397.51L576.1 573.47L576.1 -15.7L326.7 -15.7Z" fill="#b1cce3"/>
<path d="M326.7 396.12L576.1 571.77L576.1 -15.7L326.7 -15.7Z" fill="#b0cbe2"/>
<path d="M326.7 394.73L576.1 570.07L576.1 -15.7L326.7 -15.7Z" fill="#afcae2"/>
<path d="M326.7 393.36L576.1 568.38L576.1 -15.7L326.7 -15.7Z" fill="#aec9e1"/>
<path d="M326.7 391.53L576.1 566.14L576.1 -15.7L326.7 -15.7Z" fill="#aec8e1"/>
<path d="M326.7 389.7L576.1 563.9L576.1 -15.7L326.7 -15.7Z" fill="#adc7e0"/>
<path d="M326.7 387.89L576.1 561.68L576.1 -15.7L326.7 -15.7Z" fill="#acc6df"/>
<path d="M326.7 385.19L576.1 558.36L576.1 -15.7L326.7 -15.7Z" fill="#abc4df"/>
<path d="M326.7 382.5L576.1 555.07L576.1 -15.7L326.7 -15.7Z" fill="#aac3de"/>
<path d="M326.7 378.51L576.1 550.17L576.1 -15.7L326.7 -15.7Z" fill="#a9c2de"/>
<path d="M326.7 373.25L576.1 543.73L576.1 -15.7L326.7 -15.7Z" fill="#a8c1dd"/>
<path d="M326.7 364.65L576.1 533.17L576.1 -15.7L326.7 -15.7Z" fill="#a7c0dd"/>
</g>
<g stroke="rgba(60,60,90,0.10)" stroke-width="0.8">
<line x1="332.11" y1="384.3" x2="332.11" y2="553.5"/>
<line x1="374.67" y1="384.3" x2="374.67" y2="553.5"/>
<line x1="417.24" y1="384.3" x2="417.24" y2="553.5"/>
<line x1="459.81" y1="384.3" x2="459.81" y2="553.5"/>
<line x1="502.37" y1="384.3" x2="502.37" y2="553.5"/>
<line x1="544.94" y1="384.3" x2="544.94" y2="553.5"/>
<line x1="328.7" y1="398.37" x2="574.1" y2="398.37"/>
<line x1="328.7" y1="421.25" x2="574.1" y2="421.25"/>
<line x1="328.7" y1="444.13" x2="574.1" y2="444.13"/>
<line x1="328.7" y1="467.01" x2="574.1" y2="467.01"/>
<line x1="328.7" y1="489.89" x2="574.1" y2="489.89"/>
<line x1="328.7" y1="512.77" x2="574.1" y2="512.77"/>
<line x1="328.7" y1="535.65" x2="574.1" y2="535.65"/>
</g>
<g clip-path="url(#clip_e)" stroke="#3f7fae" stroke-width="0.65" stroke-opacity="0.65" fill="none">
<line x1="328.7" y1="450.36" x2="574.1" y2="634.94"/>
<line x1="328.7" y1="443.8" x2="574.1" y2="626.93"/>
<line x1="328.7" y1="436.73" x2="574.1" y2="618.29"/>
<line x1="328.7" y1="428.12" x2="574.1" y2="607.75"/>
<line x1="328.7" y1="414.8" x2="574.1" y2="591.47"/>
</g>
<rect x="174" y="0" width="254" height="1.2" fill="#b4c6de" fill-opacity="0.7"/>
<rect x="427.3" y="0" width="1.2" height="169" fill="#b4c6de" fill-opacity="0.6"/>
<line x1="173.7" y1="25.44" x2="376.05" y2="25.44" stroke="#333" stroke-width="0.6" stroke-opacity="0.45"/>
<line x1="376.05" y1="25.44" x2="376.05" y2="168.7" stroke="#333" stroke-width="0.6" stroke-opacity="0.45"/>
<circle cx="376.05" cy="25.44" r="1.1" fill="#000"/>
<text x="365" y="30.3" text-anchor="middle" dominant-baseline="central" font-family="Liberation Serif, serif" font-size="4.8" fill="#111">(305,-690)</text>
<line x1="173.7" y1="96.16" x2="194.91" y2="96.16" stroke="#333" stroke-width="0.6" stroke-opacity="0.45"/>
<line x1="194.91" y1="96.16" x2="194.91" y2="168.7" stroke="#333" stroke-width="0.6" stroke-opacity="0.45"/>
<circle cx="194.91" cy="96.16" r="1.1" fill="#000"/>
<text x="185.4" y="93.3" text-anchor="middle" dominant-baseline="central" font-family="Liberation Serif, serif" font-size="4.8" fill="#111">(264,-755)</text>
<line x1="173.7" y1="134.94" x2="177.23" y2="134.94" stroke="#333" stroke-width="0.6" stroke-opacity="0.45"/>
<line x1="177.23" y1="134.94" x2="177.23" y2="168.7" stroke="#333" stroke-width="0.6" stroke-opacity="0.45"/>
<circle cx="177.23" cy="134.94" r="1.1" fill="#000"/>
<text x="184.1" y="131.3" text-anchor="middle" dominant-baseline="central" font-family="Liberation Serif, serif" font-size="4.8" fill="#111">(260,-786)</text>
<rect x="372.6" y="11.7" width="7.3" height="12.1" fill="#fff"/>
<text x="0" y="0" transform="translate(376.25 18.35) scale(0.74 1)" text-anchor="middle" dominant-baseline="central" font-family="Liberation Serif, serif" font-weight="bold" font-size="12.5" fill="#0a0a0a">I</text>
<rect x="196.9" y="94.6" width="9.5" height="11.3" fill="#fff"/>
<text x="0" y="0" transform="translate(201.65 100.85) scale(0.74 1)" text-anchor="middle" dominant-baseline="central" font-family="Liberation Serif, serif" font-weight="bold" font-size="12.5" fill="#0a0a0a">II</text>
<rect x="177.8" y="135.7" width="14.4" height="10.4" fill="#fff"/>
<text x="0" y="0" transform="translate(185 141.5) scale(0.74 1)" text-anchor="middle" dominant-baseline="central" font-family="Liberation Serif, serif" font-weight="bold" font-size="12.5" fill="#0a0a0a">III</text>
<text x="188.8" y="24.45" transform="rotate(34.12 188.8 24.45)" font-size="5.8" font-weight="normal" text-anchor="middle" dominant-baseline="central" font-family="Liberation Sans, sans-serif" fill="#94c2dd" stroke="#94c2dd" stroke-width="1.5" stroke-opacity="0.85">−26</text>
<text x="188.8" y="24.45" transform="rotate(34.12 188.8 24.45)" font-size="5.8" font-weight="normal" text-anchor="middle" dominant-baseline="central" font-family="Liberation Sans, sans-serif" fill="#1a1a1a" stroke="#1a1a1a" stroke-width="0.3">−26</text>
<text x="188.8" y="48.88" transform="rotate(34.94 188.8 48.88)" font-size="5.8" font-weight="normal" text-anchor="middle" dominant-baseline="central" font-family="Liberation Sans, sans-serif" fill="#fcf3ee" stroke="#fcf3ee" stroke-width="1.5" stroke-opacity="0.85">−27.5</text>
<text x="188.8" y="48.88" transform="rotate(34.94 188.8 48.88)" font-size="5.8" font-weight="normal" text-anchor="middle" dominant-baseline="central" font-family="Liberation Sans, sans-serif" fill="#1a1a1a" stroke="#1a1a1a" stroke-width="0.3">−27.5</text>
<text x="222.2" y="55.28" transform="rotate(34.39 222.2 55.28)" font-size="5.8" font-weight="normal" text-anchor="middle" dominant-baseline="central" font-family="Liberation Sans, sans-serif" fill="#c6e0ee" stroke="#c6e0ee" stroke-width="1.5" stroke-opacity="0.85">−26.5</text>
<text x="222.2" y="55.28" transform="rotate(34.39 222.2 55.28)" font-size="5.8" font-weight="normal" text-anchor="middle" dominant-baseline="central" font-family="Liberation Sans, sans-serif" fill="#1a1a1a" stroke="#1a1a1a" stroke-width="0.3">−26.5</text>
<text x="199.4" y="73.6" transform="rotate(35.5 199.4 73.6)" font-size="5.8" font-weight="normal" text-anchor="middle" dominant-baseline="central" font-family="Liberation Sans, sans-serif" fill="#edb0a1" stroke="#edb0a1" stroke-width="1.5" stroke-opacity="0.85">−28.5</text>
<text x="199.4" y="73.6" transform="rotate(35.5 199.4 73.6)" font-size="5.8" font-weight="normal" text-anchor="middle" dominant-baseline="central" font-family="Liberation Sans, sans-serif" fill="#1a1a1a" stroke="#1a1a1a" stroke-width="0.3">−28.5</text>
<text x="234.4" y="85.12" transform="rotate(35.08 234.4 85.12)" font-size="5.8" font-weight="normal" text-anchor="middle" dominant-baseline="central" font-family="Liberation Sans, sans-serif" fill="#feeadf" stroke="#feeadf" stroke-width="1.5" stroke-opacity="0.85">−27.75</text>
<text x="234.4" y="85.12" transform="rotate(35.08 234.4 85.12)" font-size="5.8" font-weight="normal" text-anchor="middle" dominant-baseline="central" font-family="Liberation Sans, sans-serif" fill="#1a1a1a" stroke="#1a1a1a" stroke-width="0.3">−27.75</text>
<text x="275.1" y="95.84" transform="rotate(34.52 275.1 95.84)" font-size="5.8" font-weight="normal" text-anchor="middle" dominant-baseline="central" font-family="Liberation Sans, sans-serif" fill="#dbebf3" stroke="#dbebf3" stroke-width="1.5" stroke-opacity="0.85">−26.75</text>
<text x="275.1" y="95.84" transform="rotate(34.52 275.1 95.84)" font-size="5.8" font-weight="normal" text-anchor="middle" dominant-baseline="central" font-family="Liberation Sans, sans-serif" fill="#1a1a1a" stroke="#1a1a1a" stroke-width="0.3">−26.75</text>
<text x="241.2" y="112.67" transform="rotate(35.79 241.2 112.67)" font-size="5.8" font-weight="normal" text-anchor="middle" dominant-baseline="central" font-family="Liberation Sans, sans-serif" fill="#d78186" stroke="#d78186" stroke-width="1.5" stroke-opacity="0.85">−29</text>
<text x="241.2" y="112.67" transform="rotate(35.79 241.2 112.67)" font-size="5.8" font-weight="normal" text-anchor="middle" dominant-baseline="central" font-family="Liberation Sans, sans-serif" fill="#1a1a1a" stroke="#1a1a1a" stroke-width="0.3">−29</text>
<text x="269.5" y="118.94" transform="rotate(35.36 269.5 118.94)" font-size="5.8" font-weight="normal" text-anchor="middle" dominant-baseline="central" font-family="Liberation Sans, sans-serif" fill="#f7c7b2" stroke="#f7c7b2" stroke-width="1.5" stroke-opacity="0.85">−28.25</text>
<text x="269.5" y="118.94" transform="rotate(35.36 269.5 118.94)" font-size="5.8" font-weight="normal" text-anchor="middle" dominant-baseline="central" font-family="Liberation Sans, sans-serif" fill="#1a1a1a" stroke="#1a1a1a" stroke-width="0.3">−28.25</text>
<text x="309.4" y="128.51" transform="rotate(34.8 309.4 128.51)" font-size="5.8" font-weight="normal" text-anchor="middle" dominant-baseline="central" font-family="Liberation Sans, sans-serif" fill="#f7f9fa" stroke="#f7f9fa" stroke-width="1.5" stroke-opacity="0.85">−27.25</text>
<text x="309.4" y="128.51" transform="rotate(34.8 309.4 128.51)" font-size="5.8" font-weight="normal" text-anchor="middle" dominant-baseline="central" font-family="Liberation Sans, sans-serif" fill="#1a1a1a" stroke="#1a1a1a" stroke-width="0.3">−27.25</text>
<text x="341.7" y="132.53" transform="rotate(34.25 341.7 132.53)" font-size="5.8" font-weight="normal" text-anchor="middle" dominant-baseline="central" font-family="Liberation Sans, sans-serif" fill="#aed2e6" stroke="#aed2e6" stroke-width="1.5" stroke-opacity="0.85">−26.25</text>
<text x="341.7" y="132.53" transform="rotate(34.25 341.7 132.53)" font-size="5.8" font-weight="normal" text-anchor="middle" dominant-baseline="central" font-family="Liberation Sans, sans-serif" fill="#1a1a1a" stroke="#1a1a1a" stroke-width="0.3">−26.25</text>
<text x="293" y="145.16" transform="rotate(35.64 293 145.16)" font-size="5.8" font-weight="normal" text-anchor="middle" dominant-baseline="central" font-family="Liberation Sans, sans-serif" fill="#e39991" stroke="#e39991" stroke-width="1.5" stroke-opacity="0.85">−28.75</text>
<text x="293" y="145.16" transform="rotate(35.64 293 145.16)" font-size="5.8" font-weight="normal" text-anchor="middle" dominant-baseline="central" font-family="Liberation Sans, sans-serif" fill="#1a1a1a" stroke="#1a1a1a" stroke-width="0.3">−28.75</text>
<text x="330.9" y="157.67" transform="rotate(35.22 330.9 157.67)" font-size="5.8" font-weight="normal" text-anchor="middle" dominant-baseline="central" font-family="Liberation Sans, sans-serif" fill="#fbd9c8" stroke="#fbd9c8" stroke-width="1.5" stroke-opacity="0.85">−28</text>
<text x="330.9" y="157.67" transform="rotate(35.22 330.9 157.67)" font-size="5.8" font-weight="normal" text-anchor="middle" dominant-baseline="central" font-family="Liberation Sans, sans-serif" fill="#1a1a1a" stroke="#1a1a1a" stroke-width="0.3">−28</text>
<text x="359.6" y="158.66" transform="rotate(34.66 359.6 158.66)" font-size="5.8" font-weight="normal" text-anchor="middle" dominant-baseline="central" font-family="Liberation Sans, sans-serif" fill="#ebf3f7" stroke="#ebf3f7" stroke-width="1.5" stroke-opacity="0.85">−27</text>
<text x="359.6" y="158.66" transform="rotate(34.66 359.6 158.66)" font-size="5.8" font-weight="normal" text-anchor="middle" dominant-baseline="central" font-family="Liberation Sans, sans-serif" fill="#1a1a1a" stroke="#1a1a1a" stroke-width="0.3">−27</text>
<text x="388.2" y="154.93" transform="rotate(33.98 388.2 154.93)" font-size="5.8" font-weight="normal" text-anchor="middle" dominant-baseline="central" font-family="Liberation Sans, sans-serif" fill="#85b3d5" stroke="#85b3d5" stroke-width="1.5" stroke-opacity="0.85">−25.75</text>
<text x="388.2" y="154.93" transform="rotate(33.98 388.2 154.93)" font-size="5.8" font-weight="normal" text-anchor="middle" dominant-baseline="central" font-family="Liberation Sans, sans-serif" fill="#1a1a1a" stroke="#1a1a1a" stroke-width="0.3">−25.75</text>
<text x="41.3" y="234.52" transform="rotate(33.93 41.3 234.52)" font-size="5.9" font-weight="normal" text-anchor="middle" dominant-baseline="central" font-family="Liberation Sans, sans-serif" fill="#f5fbeb" stroke="#f5fbeb" stroke-width="1.5" stroke-opacity="0.85">17.5</text>
<text x="41.3" y="234.52" transform="rotate(33.93 41.3 234.52)" font-size="5.9" font-weight="normal" text-anchor="middle" dominant-baseline="central" font-family="Liberation Sans, sans-serif" fill="#1a1a1a" stroke="#1a1a1a" stroke-width="0.3">17.5</text>
<text x="42.4" y="263.44" transform="rotate(34.85 42.4 263.44)" font-size="5.9" font-weight="normal" text-anchor="middle" dominant-baseline="central" font-family="Liberation Sans, sans-serif" fill="#f9af94" stroke="#f9af94" stroke-width="1.5" stroke-opacity="0.85">5</text>
<text x="42.4" y="263.44" transform="rotate(34.85 42.4 263.44)" font-size="5.9" font-weight="normal" text-anchor="middle" dominant-baseline="central" font-family="Liberation Sans, sans-serif" fill="#1a1a1a" stroke="#1a1a1a" stroke-width="0.3">5</text>
<text x="76.8" y="269.76" transform="rotate(34.29 76.8 269.76)" font-size="5.9" font-weight="normal" text-anchor="middle" dominant-baseline="central" font-family="Liberation Sans, sans-serif" fill="#fff0c3" stroke="#fff0c3" stroke-width="1.5" stroke-opacity="0.85">12.5</text>
<text x="76.8" y="269.76" transform="rotate(34.29 76.8 269.76)" font-size="5.9" font-weight="normal" text-anchor="middle" dominant-baseline="central" font-family="Liberation Sans, sans-serif" fill="#1a1a1a" stroke="#1a1a1a" stroke-width="0.3">12.5</text>
<text x="124.2" y="278.82" transform="rotate(33.58 124.2 278.82)" font-size="5.9" font-weight="normal" text-anchor="middle" dominant-baseline="central" font-family="Liberation Sans, sans-serif" fill="#d2ebf3" stroke="#d2ebf3" stroke-width="1.5" stroke-opacity="0.85">22.5</text>
<text x="124.2" y="278.82" transform="rotate(33.58 124.2 278.82)" font-size="5.9" font-weight="normal" text-anchor="middle" dominant-baseline="central" font-family="Liberation Sans, sans-serif" fill="#1a1a1a" stroke="#1a1a1a" stroke-width="0.3">22.5</text>
<text x="80.6" y="302.24" transform="rotate(35.23 80.6 302.24)" font-size="5.9" font-weight="normal" text-anchor="middle" dominant-baseline="central" font-family="Liberation Sans, sans-serif" fill="#e28182" stroke="#e28182" stroke-width="1.5" stroke-opacity="0.85">0</text>
<text x="80.6" y="302.24" transform="rotate(35.23 80.6 302.24)" font-size="5.9" font-weight="normal" text-anchor="middle" dominant-baseline="central" font-family="Liberation Sans, sans-serif" fill="#1a1a1a" stroke="#1a1a1a" stroke-width="0.3">0</text>
<text x="118" y="303.85" transform="rotate(34.48 118 303.85)" font-size="5.9" font-weight="normal" text-anchor="middle" dominant-baseline="central" font-family="Liberation Sans, sans-serif" fill="#fedeb1" stroke="#fedeb1" stroke-width="1.5" stroke-opacity="0.85">10</text>
<text x="118" y="303.85" transform="rotate(34.48 118 303.85)" font-size="5.9" font-weight="normal" text-anchor="middle" dominant-baseline="central" font-family="Liberation Sans, sans-serif" fill="#1a1a1a" stroke="#1a1a1a" stroke-width="0.3">10</text>
<text x="163.2" y="310.58" transform="rotate(33.75 163.2 310.58)" font-size="5.9" font-weight="normal" text-anchor="middle" dominant-baseline="central" font-family="Liberation Sans, sans-serif" fill="#e7f5f9" stroke="#e7f5f9" stroke-width="1.5" stroke-opacity="0.85">20</text>
<text x="163.2" y="310.58" transform="rotate(33.75 163.2 310.58)" font-size="5.9" font-weight="normal" text-anchor="middle" dominant-baseline="central" font-family="Liberation Sans, sans-serif" fill="#1a1a1a" stroke="#1a1a1a" stroke-width="0.3">20</text>
<text x="205.2" y="320.7" transform="rotate(33.23 205.2 320.7)" font-size="5.9" font-weight="normal" text-anchor="middle" dominant-baseline="central" font-family="Liberation Sans, sans-serif" fill="#a9c9e1" stroke="#a9c9e1" stroke-width="1.5" stroke-opacity="0.85">27.5</text>
<text x="205.2" y="320.7" transform="rotate(33.23 205.2 320.7)" font-size="5.9" font-weight="normal" text-anchor="middle" dominant-baseline="central" font-family="Liberation Sans, sans-serif" fill="#1a1a1a" stroke="#1a1a1a" stroke-width="0.3">27.5</text>
<text x="142.6" y="339.56" transform="rotate(35.04 142.6 339.56)" font-size="5.9" font-weight="normal" text-anchor="middle" dominant-baseline="central" font-family="Liberation Sans, sans-serif" fill="#ef9789" stroke="#ef9789" stroke-width="1.5" stroke-opacity="0.85">2.5</text>
<text x="142.6" y="339.56" transform="rotate(35.04 142.6 339.56)" font-size="5.9" font-weight="normal" text-anchor="middle" dominant-baseline="central" font-family="Liberation Sans, sans-serif" fill="#1a1a1a" stroke="#1a1a1a" stroke-width="0.3">2.5</text>
<text x="177" y="350.71" transform="rotate(34.66 177 350.71)" font-size="5.9" font-weight="normal" text-anchor="middle" dominant-baseline="central" font-family="Liberation Sans, sans-serif" fill="#fdc9a0" stroke="#fdc9a0" stroke-width="1.5" stroke-opacity="0.85">7.5</text>
<text x="177" y="350.71" transform="rotate(34.66 177 350.71)" font-size="5.9" font-weight="normal" text-anchor="middle" dominant-baseline="central" font-family="Liberation Sans, sans-serif" fill="#1a1a1a" stroke="#1a1a1a" stroke-width="0.3">7.5</text>
<text x="206.3" y="351.76" transform="rotate(34.11 206.3 351.76)" font-size="5.9" font-weight="normal" text-anchor="middle" dominant-baseline="central" font-family="Liberation Sans, sans-serif" fill="#fffcd5" stroke="#fffcd5" stroke-width="1.5" stroke-opacity="0.85">15</text>
<text x="206.3" y="351.76" transform="rotate(34.11 206.3 351.76)" font-size="5.9" font-weight="normal" text-anchor="middle" dominant-baseline="central" font-family="Liberation Sans, sans-serif" fill="#1a1a1a" stroke="#1a1a1a" stroke-width="0.3">15</text>
<text x="242.2" y="351" transform="rotate(33.4 242.2 351)" font-size="5.9" font-weight="normal" text-anchor="middle" dominant-baseline="central" font-family="Liberation Sans, sans-serif" fill="#bddbeb" stroke="#bddbeb" stroke-width="1.5" stroke-opacity="0.85">25</text>
<text x="242.2" y="351" transform="rotate(33.4 242.2 351)" font-size="5.9" font-weight="normal" text-anchor="middle" dominant-baseline="central" font-family="Liberation Sans, sans-serif" fill="#1a1a1a" stroke="#1a1a1a" stroke-width="0.3">25</text>
<text x="340.8" y="235.32" transform="rotate(35.89 340.8 235.32)" font-size="5.9" font-weight="normal" text-anchor="middle" dominant-baseline="central" font-family="Liberation Sans, sans-serif" fill="#f0f9f6" stroke="#f0f9f6" stroke-width="1.5" stroke-opacity="0.85">15</text>
<text x="340.8" y="235.32" transform="rotate(35.89 340.8 235.32)" font-size="5.9" font-weight="normal" text-anchor="middle" dominant-baseline="central" font-family="Liberation Sans, sans-serif" fill="#1a1a1a" stroke="#1a1a1a" stroke-width="0.3">15</text>
<text x="394.6" y="256.1" transform="rotate(35.31 394.6 256.1)" font-size="5.9" font-weight="normal" text-anchor="middle" dominant-baseline="central" font-family="Liberation Sans, sans-serif" fill="#a4c3de" stroke="#a4c3de" stroke-width="1.5" stroke-opacity="0.85">22.5</text>
<text x="394.6" y="256.1" transform="rotate(35.31 394.6 256.1)" font-size="5.9" font-weight="normal" text-anchor="middle" dominant-baseline="central" font-family="Liberation Sans, sans-serif" fill="#1a1a1a" stroke="#1a1a1a" stroke-width="0.3">22.5</text>
<text x="346.6" y="263.96" transform="rotate(36.71 346.6 263.96)" font-size="5.9" font-weight="normal" text-anchor="middle" dominant-baseline="central" font-family="Liberation Sans, sans-serif" fill="#fbbc9a" stroke="#fbbc9a" stroke-width="1.5" stroke-opacity="0.85">5</text>
<text x="346.6" y="263.96" transform="rotate(36.71 346.6 263.96)" font-size="5.9" font-weight="normal" text-anchor="middle" dominant-baseline="central" font-family="Liberation Sans, sans-serif" fill="#1a1a1a" stroke="#1a1a1a" stroke-width="0.3">5</text>
<text x="381.5" y="277.19" transform="rotate(36.3 381.5 277.19)" font-size="5.9" font-weight="normal" text-anchor="middle" dominant-baseline="central" font-family="Liberation Sans, sans-serif" fill="#fff0c3" stroke="#fff0c3" stroke-width="1.5" stroke-opacity="0.85">10</text>
<text x="381.5" y="277.19" transform="rotate(36.3 381.5 277.19)" font-size="5.9" font-weight="normal" text-anchor="middle" dominant-baseline="central" font-family="Liberation Sans, sans-serif" fill="#1a1a1a" stroke="#1a1a1a" stroke-width="0.3">10</text>
<text x="427.8" y="304.7" transform="rotate(36.1 427.8 304.7)" font-size="5.9" font-weight="normal" text-anchor="middle" dominant-baseline="central" font-family="Liberation Sans, sans-serif" fill="#ffffdb" stroke="#ffffdb" stroke-width="1.5" stroke-opacity="0.85">12.5</text>
<text x="427.8" y="304.7" transform="rotate(36.1 427.8 304.7)" font-size="5.9" font-weight="normal" text-anchor="middle" dominant-baseline="central" font-family="Liberation Sans, sans-serif" fill="#1a1a1a" stroke="#1a1a1a" stroke-width="0.3">12.5</text>
<text x="391.6" y="310.81" transform="rotate(37.13 391.6 310.81)" font-size="5.9" font-weight="normal" text-anchor="middle" dominant-baseline="central" font-family="Liberation Sans, sans-serif" fill="#e28182" stroke="#e28182" stroke-width="1.5" stroke-opacity="0.85">0</text>
<text x="391.6" y="310.81" transform="rotate(37.13 391.6 310.81)" font-size="5.9" font-weight="normal" text-anchor="middle" dominant-baseline="central" font-family="Liberation Sans, sans-serif" fill="#1a1a1a" stroke="#1a1a1a" stroke-width="0.3">0</text>
<text x="469.4" y="315.42" transform="rotate(35.5 469.4 315.42)" font-size="5.9" font-weight="normal" text-anchor="middle" dominant-baseline="central" font-family="Liberation Sans, sans-serif" fill="#bddbeb" stroke="#bddbeb" stroke-width="1.5" stroke-opacity="0.85">20</text>
<text x="469.4" y="315.42" transform="rotate(35.5 469.4 315.42)" font-size="5.9" font-weight="normal" text-anchor="middle" dominant-baseline="central" font-family="Liberation Sans, sans-serif" fill="#1a1a1a" stroke="#1a1a1a" stroke-width="0.3">20</text>
<text x="442.2" y="342.13" transform="rotate(36.92 442.2 342.13)" font-size="5.9" font-weight="normal" text-anchor="middle" dominant-baseline="central" font-family="Liberation Sans, sans-serif" fill="#f29c8c" stroke="#f29c8c" stroke-width="1.5" stroke-opacity="0.85">2.5</text>
<text x="442.2" y="342.13" transform="rotate(36.92 442.2 342.13)" font-size="5.9" font-weight="normal" text-anchor="middle" dominant-baseline="central" font-family="Liberation Sans, sans-serif" fill="#1a1a1a" stroke="#1a1a1a" stroke-width="0.3">2.5</text>
<text x="473.4" y="351.55" transform="rotate(36.5 473.4 351.55)" font-size="5.9" font-weight="normal" text-anchor="middle" dominant-baseline="central" font-family="Liberation Sans, sans-serif" fill="#fed9ab" stroke="#fed9ab" stroke-width="1.5" stroke-opacity="0.85">7.5</text>
<text x="473.4" y="351.55" transform="rotate(36.5 473.4 351.55)" font-size="5.9" font-weight="normal" text-anchor="middle" dominant-baseline="central" font-family="Liberation Sans, sans-serif" fill="#1a1a1a" stroke="#1a1a1a" stroke-width="0.3">7.5</text>
<text x="505.6" y="347.87" transform="rotate(35.7 505.6 347.87)" font-size="5.9" font-weight="normal" text-anchor="middle" dominant-baseline="central" font-family="Liberation Sans, sans-serif" fill="#d7edf5" stroke="#d7edf5" stroke-width="1.5" stroke-opacity="0.85">17.5</text>
<text x="505.6" y="347.87" transform="rotate(35.7 505.6 347.87)" font-size="5.9" font-weight="normal" text-anchor="middle" dominant-baseline="central" font-family="Liberation Sans, sans-serif" fill="#1a1a1a" stroke="#1a1a1a" stroke-width="0.3">17.5</text>
<text x="539.3" y="351.96" transform="rotate(35.11 539.3 351.96)" font-size="5.9" font-weight="normal" text-anchor="middle" dominant-baseline="central" font-family="Liberation Sans, sans-serif" fill="#91a7d0" stroke="#91a7d0" stroke-width="1.5" stroke-opacity="0.85">25</text>
<text x="539.3" y="351.96" transform="rotate(35.11 539.3 351.96)" font-size="5.9" font-weight="normal" text-anchor="middle" dominant-baseline="central" font-family="Liberation Sans, sans-serif" fill="#1a1a1a" stroke="#1a1a1a" stroke-width="0.3">25</text>
<text x="51.4" y="428.69" transform="rotate(35.89 51.4 428.69)" font-size="5.9" font-weight="normal" text-anchor="middle" dominant-baseline="central" font-family="Liberation Sans, sans-serif" fill="#c9e4f0" stroke="#c9e4f0" stroke-width="1.5" stroke-opacity="0.85">1.75</text>
<text x="51.4" y="428.69" transform="rotate(35.89 51.4 428.69)" font-size="5.9" font-weight="normal" text-anchor="middle" dominant-baseline="central" font-family="Liberation Sans, sans-serif" fill="#1a1a1a" stroke="#1a1a1a" stroke-width="0.3">1.75</text>
<text x="109.5" y="447.38" transform="rotate(35.14 109.5 447.38)" font-size="5.9" font-weight="normal" text-anchor="middle" dominant-baseline="central" font-family="Liberation Sans, sans-serif" fill="#93aed3" stroke="#93aed3" stroke-width="1.5" stroke-opacity="0.85">2.25</text>
<text x="109.5" y="447.38" transform="rotate(35.14 109.5 447.38)" font-size="5.9" font-weight="normal" text-anchor="middle" dominant-baseline="central" font-family="Liberation Sans, sans-serif" fill="#1a1a1a" stroke="#1a1a1a" stroke-width="0.3">2.25</text>
<text x="56.3" y="459.31" transform="rotate(36.79 56.3 459.31)" font-size="5.9" font-weight="normal" text-anchor="middle" dominant-baseline="central" font-family="Liberation Sans, sans-serif" fill="#fcc29d" stroke="#fcc29d" stroke-width="1.5" stroke-opacity="0.85">0.5</text>
<text x="56.3" y="459.31" transform="rotate(36.79 56.3 459.31)" font-size="5.9" font-weight="normal" text-anchor="middle" dominant-baseline="central" font-family="Liberation Sans, sans-serif" fill="#1a1a1a" stroke="#1a1a1a" stroke-width="0.3">0.5</text>
<text x="83.2" y="475.86" transform="rotate(36.68 83.2 475.86)" font-size="5.9" font-weight="normal" text-anchor="middle" dominant-baseline="central" font-family="Liberation Sans, sans-serif" fill="#fedfb2" stroke="#fedfb2" stroke-width="1.5" stroke-opacity="0.85">0.75</text>
<text x="83.2" y="475.86" transform="rotate(36.68 83.2 475.86)" font-size="5.9" font-weight="normal" text-anchor="middle" dominant-baseline="central" font-family="Liberation Sans, sans-serif" fill="#1a1a1a" stroke="#1a1a1a" stroke-width="0.3">0.75</text>
<text x="98.3" y="497.54" transform="rotate(37 98.3 497.54)" font-size="5.9" font-weight="normal" text-anchor="middle" dominant-baseline="central" font-family="Liberation Sans, sans-serif" fill="#e28182" stroke="#e28182" stroke-width="1.5" stroke-opacity="0.85">0</text>
<text x="98.3" y="497.54" transform="rotate(37 98.3 497.54)" font-size="5.9" font-weight="normal" text-anchor="middle" dominant-baseline="central" font-family="Liberation Sans, sans-serif" fill="#1a1a1a" stroke="#1a1a1a" stroke-width="0.3">0</text>
<text x="129.9" y="501.61" transform="rotate(36.4 129.9 501.61)" font-size="5.9" font-weight="normal" text-anchor="middle" dominant-baseline="central" font-family="Liberation Sans, sans-serif" fill="#f8fce6" stroke="#f8fce6" stroke-width="1.5" stroke-opacity="0.85">1.25</text>
<text x="129.9" y="501.61" transform="rotate(36.4 129.9 501.61)" font-size="5.9" font-weight="normal" text-anchor="middle" dominant-baseline="central" font-family="Liberation Sans, sans-serif" fill="#1a1a1a" stroke="#1a1a1a" stroke-width="0.3">1.25</text>
<text x="165.1" y="521.39" transform="rotate(36.21 165.1 521.39)" font-size="5.9" font-weight="normal" text-anchor="middle" dominant-baseline="central" font-family="Liberation Sans, sans-serif" fill="#e5f4f9" stroke="#e5f4f9" stroke-width="1.5" stroke-opacity="0.85">1.5</text>
<text x="165.1" y="521.39" transform="rotate(36.21 165.1 521.39)" font-size="5.9" font-weight="normal" text-anchor="middle" dominant-baseline="central" font-family="Liberation Sans, sans-serif" fill="#1a1a1a" stroke="#1a1a1a" stroke-width="0.3">1.5</text>
<text x="149.6" y="532.63" transform="rotate(36.9 149.6 532.63)" font-size="5.9" font-weight="normal" text-anchor="middle" dominant-baseline="central" font-family="Liberation Sans, sans-serif" fill="#f39f8d" stroke="#f39f8d" stroke-width="1.5" stroke-opacity="0.85">0.25</text>
<text x="149.6" y="532.63" transform="rotate(36.9 149.6 532.63)" font-size="5.9" font-weight="normal" text-anchor="middle" dominant-baseline="central" font-family="Liberation Sans, sans-serif" fill="#1a1a1a" stroke="#1a1a1a" stroke-width="0.3">0.25</text>
<text x="184.8" y="546.91" transform="rotate(36.54 184.8 546.91)" font-size="5.9" font-weight="normal" text-anchor="middle" dominant-baseline="central" font-family="Liberation Sans, sans-serif" fill="#fff5ca" stroke="#fff5ca" stroke-width="1.5" stroke-opacity="0.85">1</text>
<text x="184.8" y="546.91" transform="rotate(36.54 184.8 546.91)" font-size="5.9" font-weight="normal" text-anchor="middle" dominant-baseline="central" font-family="Liberation Sans, sans-serif" fill="#1a1a1a" stroke="#1a1a1a" stroke-width="0.3">1</text>
<text x="229.9" y="544.45" transform="rotate(35.5 229.9 544.45)" font-size="5.9" font-weight="normal" text-anchor="middle" dominant-baseline="central" font-family="Liberation Sans, sans-serif" fill="#abcce2" stroke="#abcce2" stroke-width="1.5" stroke-opacity="0.85">2</text>
<text x="229.9" y="544.45" transform="rotate(35.5 229.9 544.45)" font-size="5.9" font-weight="normal" text-anchor="middle" dominant-baseline="central" font-family="Liberation Sans, sans-serif" fill="#1a1a1a" stroke="#1a1a1a" stroke-width="0.3">2</text>
<text x="352.1" y="454.04" transform="rotate(36.5 352.1 454.04)" font-size="5.9" font-weight="normal" text-anchor="middle" dominant-baseline="central" font-family="Liberation Sans, sans-serif" fill="#fff1ca" stroke="#fff1ca" stroke-width="1.5" stroke-opacity="0.85">0.06</text>
<text x="352.1" y="454.04" transform="rotate(36.5 352.1 454.04)" font-size="5.9" font-weight="normal" text-anchor="middle" dominant-baseline="central" font-family="Liberation Sans, sans-serif" fill="#1a1a1a" stroke="#1a1a1a" stroke-width="0.3">0.06</text>
<text x="409.4" y="472.9" transform="rotate(35.75 409.4 472.9)" font-size="5.9" font-weight="normal" text-anchor="middle" dominant-baseline="central" font-family="Liberation Sans, sans-serif" fill="#cae3ef" stroke="#cae3ef" stroke-width="1.5" stroke-opacity="0.85">0.12</text>
<text x="409.4" y="472.9" transform="rotate(35.75 409.4 472.9)" font-size="5.9" font-weight="normal" text-anchor="middle" dominant-baseline="central" font-family="Liberation Sans, sans-serif" fill="#1a1a1a" stroke="#1a1a1a" stroke-width="0.3">0.12</text>
<text x="391.7" y="497.74" transform="rotate(36.95 391.7 497.74)" font-size="5.9" font-weight="normal" text-anchor="middle" dominant-baseline="central" font-family="Liberation Sans, sans-serif" fill="#e79393" stroke="#e79393" stroke-width="1.5" stroke-opacity="0.85">0</text>
<text x="391.7" y="497.74" transform="rotate(36.95 391.7 497.74)" font-size="5.9" font-weight="normal" text-anchor="middle" dominant-baseline="central" font-family="Liberation Sans, sans-serif" fill="#1a1a1a" stroke="#1a1a1a" stroke-width="0.3">0</text>
<text x="446.7" y="531.86" transform="rotate(36.73 446.7 531.86)" font-size="5.9" font-weight="normal" text-anchor="middle" dominant-baseline="central" font-family="Liberation Sans, sans-serif" fill="#fcc5a8" stroke="#fcc5a8" stroke-width="1.5" stroke-opacity="0.85">0.03</text>
<text x="446.7" y="531.86" transform="rotate(36.73 446.7 531.86)" font-size="5.9" font-weight="normal" text-anchor="middle" dominant-baseline="central" font-family="Liberation Sans, sans-serif" fill="#1a1a1a" stroke="#1a1a1a" stroke-width="0.3">0.03</text>
<text x="480.4" y="539.16" transform="rotate(36.21 480.4 539.16)" font-size="5.9" font-weight="normal" text-anchor="middle" dominant-baseline="central" font-family="Liberation Sans, sans-serif" fill="#f3faf5" stroke="#f3faf5" stroke-width="1.5" stroke-opacity="0.85">0.09</text>
<text x="480.4" y="539.16" transform="rotate(36.21 480.4 539.16)" font-size="5.9" font-weight="normal" text-anchor="middle" dominant-baseline="central" font-family="Liberation Sans, sans-serif" fill="#1a1a1a" stroke="#1a1a1a" stroke-width="0.3">0.09</text>
<g font-family="Liberation Sans, sans-serif" font-size="5.7" fill="#585858">
<text x="177.23" y="176.9" text-anchor="middle" dominant-baseline="central">260</text>
<text x="221.41" y="176.9" text-anchor="middle" dominant-baseline="central">270</text>
<text x="265.6" y="176.9" text-anchor="middle" dominant-baseline="central">280</text>
<text x="309.78" y="176.9" text-anchor="middle" dominant-baseline="central">290</text>
<text x="353.96" y="176.9" text-anchor="middle" dominant-baseline="central">300</text>
<text x="398.14" y="176.9" text-anchor="middle" dominant-baseline="central">310</text>
<text x="170.5" y="15.03" text-anchor="end" dominant-baseline="central">−680</text>
<text x="170.5" y="37.84" text-anchor="end" dominant-baseline="central">−700</text>
<text x="170.5" y="60.66" text-anchor="end" dominant-baseline="central">−720</text>
<text x="170.5" y="83.47" text-anchor="end" dominant-baseline="central">−740</text>
<text x="170.5" y="106.28" text-anchor="end" dominant-baseline="central">−760</text>
<text x="170.5" y="129.09" text-anchor="end" dominant-baseline="central">−780</text>
<text x="170.5" y="151.91" text-anchor="end" dominant-baseline="central">−800</text>
</g>
<g font-family="Liberation Sans, sans-serif" font-size="5.7" fill="#585858">
<text x="30.96" y="369.1" text-anchor="middle" dominant-baseline="central">260</text>
<text x="76.64" y="369.1" text-anchor="middle" dominant-baseline="central">270</text>
<text x="122.33" y="369.1" text-anchor="middle" dominant-baseline="central">280</text>
<text x="168.02" y="369.1" text-anchor="middle" dominant-baseline="central">290</text>
<text x="213.71" y="369.1" text-anchor="middle" dominant-baseline="central">300</text>
<text x="259.4" y="369.1" text-anchor="middle" dominant-baseline="central">310</text>
<text x="24.1" y="206.86" text-anchor="end" dominant-baseline="central">−680</text>
<text x="24.1" y="229.73" text-anchor="end" dominant-baseline="central">−700</text>
<text x="24.1" y="252.6" text-anchor="end" dominant-baseline="central">−720</text>
<text x="24.1" y="275.46" text-anchor="end" dominant-baseline="central">−740</text>
<text x="24.1" y="298.33" text-anchor="end" dominant-baseline="central">−760</text>
<text x="24.1" y="321.2" text-anchor="end" dominant-baseline="central">−780</text>
<text x="24.1" y="344.06" text-anchor="end" dominant-baseline="central">−800</text>
</g>
<g font-family="Liberation Sans, sans-serif" font-size="5.7" fill="#585858">
<text x="332.5" y="369" text-anchor="middle" dominant-baseline="central">260</text>
<text x="374.98" y="369" text-anchor="middle" dominant-baseline="central">270</text>
<text x="417.46" y="369" text-anchor="middle" dominant-baseline="central">280</text>
<text x="459.94" y="369" text-anchor="middle" dominant-baseline="central">290</text>
<text x="502.42" y="369" text-anchor="middle" dominant-baseline="central">300</text>
<text x="544.9" y="369" text-anchor="middle" dominant-baseline="central">310</text>
<text x="325.9" y="207.04" text-anchor="end" dominant-baseline="central">−680</text>
<text x="325.9" y="229.86" text-anchor="end" dominant-baseline="central">−700</text>
<text x="325.9" y="252.69" text-anchor="end" dominant-baseline="central">−720</text>
<text x="325.9" y="275.52" text-anchor="end" dominant-baseline="central">−740</text>
<text x="325.9" y="298.34" text-anchor="end" dominant-baseline="central">−760</text>
<text x="325.9" y="321.17" text-anchor="end" dominant-baseline="central">−780</text>
<text x="325.9" y="344" text-anchor="end" dominant-baseline="central">−800</text>
</g>
<g font-family="Liberation Sans, sans-serif" font-size="5.7" fill="#585858">
<text x="39.6" y="562.2" text-anchor="middle" dominant-baseline="central">260</text>
<text x="82.14" y="562.2" text-anchor="middle" dominant-baseline="central">270</text>
<text x="124.67" y="562.2" text-anchor="middle" dominant-baseline="central">280</text>
<text x="167.2" y="562.2" text-anchor="middle" dominant-baseline="central">290</text>
<text x="209.73" y="562.2" text-anchor="middle" dominant-baseline="central">300</text>
<text x="252.27" y="562.2" text-anchor="middle" dominant-baseline="central">310</text>
<text x="33" y="399.69" text-anchor="end" dominant-baseline="central">−680</text>
<text x="33" y="422.6" text-anchor="end" dominant-baseline="central">−700</text>
<text x="33" y="445.5" text-anchor="end" dominant-baseline="central">−720</text>
<text x="33" y="468.41" text-anchor="end" dominant-baseline="central">−740</text>
<text x="33" y="491.32" text-anchor="end" dominant-baseline="central">−760</text>
<text x="33" y="514.22" text-anchor="end" dominant-baseline="central">−780</text>
<text x="33" y="537.13" text-anchor="end" dominant-baseline="central">−800</text>
</g>
<g font-family="Liberation Sans, sans-serif" font-size="5.7" fill="#585858">
<text x="332.11" y="561.7" text-anchor="middle" dominant-baseline="central">260</text>
<text x="374.67" y="561.7" text-anchor="middle" dominant-baseline="central">270</text>
<text x="417.24" y="561.7" text-anchor="middle" dominant-baseline="central">280</text>
<text x="459.81" y="561.7" text-anchor="middle" dominant-baseline="central">290</text>
<text x="502.37" y="561.7" text-anchor="middle" dominant-baseline="central">300</text>
<text x="544.94" y="561.7" text-anchor="middle" dominant-baseline="central">310</text>
<text x="325.5" y="399.37" text-anchor="end" dominant-baseline="central">−680</text>
<text x="325.5" y="422.25" text-anchor="end" dominant-baseline="central">−700</text>
<text x="325.5" y="445.13" text-anchor="end" dominant-baseline="central">−720</text>
<text x="325.5" y="468.01" text-anchor="end" dominant-baseline="central">−740</text>
<text x="325.5" y="490.89" text-anchor="end" dominant-baseline="central">−760</text>
<text x="325.5" y="513.77" text-anchor="end" dominant-baseline="central">−780</text>
<text x="325.5" y="536.65" text-anchor="end" dominant-baseline="central">−800</text>
</g>
<text x="301.2" y="183.8" text-anchor="middle" dominant-baseline="central" font-family="Liberation Serif, serif" font-size="6.1" fill="#111" stroke="#111" stroke-width="0.15">Inflow (km<tspan font-size="3.965" dy="-2">3</tspan><tspan dy="2">)</tspan></text><text x="152" y="84.8" transform="rotate(-90 152 84.8)" text-anchor="middle" dominant-baseline="central" font-family="Liberation Serif, serif" font-size="6.1" fill="#111" stroke="#111" stroke-width="0.15">P-E (mm)</text>
<text x="158.7" y="375.7" text-anchor="middle" dominant-baseline="central" font-family="Liberation Serif, serif" font-size="6.1" fill="#111" stroke="#111" stroke-width="0.15">Inflow (km<tspan font-size="3.965" dy="-2">3</tspan><tspan dy="2">)</tspan></text><text x="6" y="276.4" transform="rotate(-90 6 276.4)" text-anchor="middle" dominant-baseline="central" font-family="Liberation Serif, serif" font-size="6.1" fill="#111" stroke="#111" stroke-width="0.15">P-E (mm)</text>
<text x="452" y="376" text-anchor="middle" dominant-baseline="central" font-family="Liberation Serif, serif" font-size="6.1" fill="#111" stroke="#111" stroke-width="0.15">Inflow (km<tspan font-size="3.965" dy="-2">3</tspan><tspan dy="2">)</tspan></text><text x="307.9" y="276.2" transform="rotate(-90 307.9 276.2)" text-anchor="middle" dominant-baseline="central" font-family="Liberation Serif, serif" font-size="6.1" fill="#111" stroke="#111" stroke-width="0.15">P-E (mm)</text>
<text x="156.8" y="567.9" text-anchor="middle" dominant-baseline="central" font-family="Liberation Serif, serif" font-size="6.1" fill="#111" stroke="#111" stroke-width="0.15">Inflow (km<tspan font-size="3.965" dy="-2">3</tspan><tspan dy="2">)</tspan></text><text x="14.1" y="469.2" transform="rotate(-90 14.1 469.2)" text-anchor="middle" dominant-baseline="central" font-family="Liberation Serif, serif" font-size="6.1" fill="#111" stroke="#111" stroke-width="0.15">P-E (mm)</text>
<text x="452" y="568.1" text-anchor="middle" dominant-baseline="central" font-family="Liberation Serif, serif" font-size="6.1" fill="#111" stroke="#111" stroke-width="0.15">Inflow (km<tspan font-size="3.965" dy="-2">3</tspan><tspan dy="2">)</tspan></text><text x="307.9" y="469" transform="rotate(-90 307.9 469)" text-anchor="middle" dominant-baseline="central" font-family="Liberation Serif, serif" font-size="6.1" fill="#111" stroke="#111" stroke-width="0.15">P-E (mm)</text>
<rect x="178" y="1.3" width="16" height="11.7" fill="#fff"/><text x="186" y="6.75" text-anchor="middle" dominant-baseline="central" font-family="Liberation Serif, serif" font-weight="bold" font-size="10.9" fill="#111">(a)</text>
<rect x="32.6" y="192.3" width="15.4" height="12.7" fill="#fff"/><text x="40.3" y="198.25" text-anchor="middle" dominant-baseline="central" font-family="Liberation Serif, serif" font-weight="bold" font-size="10.9" fill="#111">(b)</text>
<rect x="334.3" y="192.5" width="14.1" height="12.8" fill="#fff"/><text x="341.35" y="198.5" text-anchor="middle" dominant-baseline="central" font-family="Liberation Serif, serif" font-weight="bold" font-size="10.9" fill="#111">(c)</text>
<rect x="42.8" y="385.1" width="14.8" height="12.9" fill="#fff"/><text x="50.2" y="391.15" text-anchor="middle" dominant-baseline="central" font-family="Liberation Serif, serif" font-weight="bold" font-size="10.9" fill="#111">(d)</text>
<rect x="334.3" y="385" width="13.9" height="12.8" fill="#fff"/><text x="341.25" y="391" text-anchor="middle" dominant-baseline="central" font-family="Liberation Serif, serif" font-weight="bold" font-size="10.9" fill="#111">(e)</text>
<rect x="387.2" y="4.9" width="39" height="76.8" rx="1.5" fill="#fff" stroke="#2a2a2a" stroke-width="1.1"/>
<rect x="389.5" y="77.84" width="12.3" height="2.26" fill="#8f364d"/>
<rect x="389.5" y="75.87" width="12.3" height="2.26" fill="#a23c50"/>
<rect x="389.5" y="73.91" width="12.3" height="2.26" fill="#b74354"/>
<rect x="389.5" y="71.95" width="12.3" height="2.26" fill="#c54e59"/>
<rect x="389.5" y="69.98" width="12.3" height="2.26" fill="#d06263"/>
<rect x="389.5" y="68.02" width="12.3" height="2.26" fill="#d9756b"/>
<rect x="389.5" y="66.06" width="12.3" height="2.26" fill="#e28877"/>
<rect x="389.5" y="64.09" width="12.3" height="2.26" fill="#ea9c86"/>
<rect x="389.5" y="62.13" width="12.3" height="2.26" fill="#f2ad94"/>
<rect x="389.5" y="60.17" width="12.3" height="2.26" fill="#f7bfa5"/>
<rect x="389.5" y="58.2" width="12.3" height="2.26" fill="#faccb6"/>
<rect x="389.5" y="56.24" width="12.3" height="2.26" fill="#fcdbca"/>
<rect x="389.5" y="54.28" width="12.3" height="2.26" fill="#fde6d8"/>
<rect x="389.5" y="52.31" width="12.3" height="2.26" fill="#fbeee6"/>
<rect x="389.5" y="50.35" width="12.3" height="2.26" fill="#f9f5f2"/>
<rect x="389.5" y="48.39" width="12.3" height="2.26" fill="#f3f6f8"/>
<rect x="389.5" y="46.42" width="12.3" height="2.26" fill="#eaf2f6"/>
<rect x="389.5" y="44.46" width="12.3" height="2.26" fill="#dfecf4"/>
<rect x="389.5" y="42.5" width="12.3" height="2.26" fill="#d2e6f1"/>
<rect x="389.5" y="40.53" width="12.3" height="2.26" fill="#c1ddec"/>
<rect x="389.5" y="38.57" width="12.3" height="2.26" fill="#b1d5e7"/>
<rect x="389.5" y="36.61" width="12.3" height="2.26" fill="#9dcae1"/>
<rect x="389.5" y="34.64" width="12.3" height="2.26" fill="#86bbd9"/>
<rect x="389.5" y="32.68" width="12.3" height="2.26" fill="#73afd2"/>
<rect x="389.5" y="30.72" width="12.3" height="2.26" fill="#63a2cb"/>
<rect x="389.5" y="28.75" width="12.3" height="2.26" fill="#5b96c6"/>
<rect x="389.5" y="26.79" width="12.3" height="2.26" fill="#518abf"/>
<rect x="389.5" y="24.83" width="12.3" height="2.26" fill="#497db2"/>
<rect x="389.5" y="22.86" width="12.3" height="2.26" fill="#426e9d"/>
<rect x="389.5" y="20.9" width="12.3" height="2.26" fill="#3b608a"/>
<line x1="389.5" y1="77.84" x2="401.8" y2="77.84" stroke="#fff" stroke-width="0.4" stroke-opacity="0.5"/>
<line x1="389.5" y1="75.87" x2="401.8" y2="75.87" stroke="#fff" stroke-width="0.4" stroke-opacity="0.5"/>
<line x1="389.5" y1="73.91" x2="401.8" y2="73.91" stroke="#fff" stroke-width="0.4" stroke-opacity="0.5"/>
<line x1="389.5" y1="71.95" x2="401.8" y2="71.95" stroke="#fff" stroke-width="0.4" stroke-opacity="0.5"/>
<line x1="389.5" y1="69.98" x2="401.8" y2="69.98" stroke="#fff" stroke-width="0.4" stroke-opacity="0.5"/>
<line x1="389.5" y1="68.02" x2="401.8" y2="68.02" stroke="#fff" stroke-width="0.4" stroke-opacity="0.5"/>
<line x1="389.5" y1="66.06" x2="401.8" y2="66.06" stroke="#fff" stroke-width="0.4" stroke-opacity="0.5"/>
<line x1="389.5" y1="64.09" x2="401.8" y2="64.09" stroke="#fff" stroke-width="0.4" stroke-opacity="0.5"/>
<line x1="389.5" y1="62.13" x2="401.8" y2="62.13" stroke="#fff" stroke-width="0.4" stroke-opacity="0.5"/>
<line x1="389.5" y1="60.17" x2="401.8" y2="60.17" stroke="#fff" stroke-width="0.4" stroke-opacity="0.5"/>
<line x1="389.5" y1="58.2" x2="401.8" y2="58.2" stroke="#fff" stroke-width="0.4" stroke-opacity="0.5"/>
<line x1="389.5" y1="56.24" x2="401.8" y2="56.24" stroke="#fff" stroke-width="0.4" stroke-opacity="0.5"/>
<line x1="389.5" y1="54.28" x2="401.8" y2="54.28" stroke="#fff" stroke-width="0.4" stroke-opacity="0.5"/>
<line x1="389.5" y1="52.31" x2="401.8" y2="52.31" stroke="#fff" stroke-width="0.4" stroke-opacity="0.5"/>
<line x1="389.5" y1="50.35" x2="401.8" y2="50.35" stroke="#fff" stroke-width="0.4" stroke-opacity="0.5"/>
<line x1="389.5" y1="48.39" x2="401.8" y2="48.39" stroke="#fff" stroke-width="0.4" stroke-opacity="0.5"/>
<line x1="389.5" y1="46.42" x2="401.8" y2="46.42" stroke="#fff" stroke-width="0.4" stroke-opacity="0.5"/>
<line x1="389.5" y1="44.46" x2="401.8" y2="44.46" stroke="#fff" stroke-width="0.4" stroke-opacity="0.5"/>
<line x1="389.5" y1="42.5" x2="401.8" y2="42.5" stroke="#fff" stroke-width="0.4" stroke-opacity="0.5"/>
<line x1="389.5" y1="40.53" x2="401.8" y2="40.53" stroke="#fff" stroke-width="0.4" stroke-opacity="0.5"/>
<line x1="389.5" y1="38.57" x2="401.8" y2="38.57" stroke="#fff" stroke-width="0.4" stroke-opacity="0.5"/>
<line x1="389.5" y1="36.61" x2="401.8" y2="36.61" stroke="#fff" stroke-width="0.4" stroke-opacity="0.5"/>
<line x1="389.5" y1="34.64" x2="401.8" y2="34.64" stroke="#fff" stroke-width="0.4" stroke-opacity="0.5"/>
<line x1="389.5" y1="32.68" x2="401.8" y2="32.68" stroke="#fff" stroke-width="0.4" stroke-opacity="0.5"/>
<line x1="389.5" y1="30.72" x2="401.8" y2="30.72" stroke="#fff" stroke-width="0.4" stroke-opacity="0.5"/>
<line x1="389.5" y1="28.75" x2="401.8" y2="28.75" stroke="#fff" stroke-width="0.4" stroke-opacity="0.5"/>
<line x1="389.5" y1="26.79" x2="401.8" y2="26.79" stroke="#fff" stroke-width="0.4" stroke-opacity="0.5"/>
<line x1="389.5" y1="24.83" x2="401.8" y2="24.83" stroke="#fff" stroke-width="0.4" stroke-opacity="0.5"/>
<line x1="389.5" y1="22.86" x2="401.8" y2="22.86" stroke="#fff" stroke-width="0.4" stroke-opacity="0.5"/>
<rect x="389.5" y="20.9" width="12.3" height="58.9" fill="none" stroke="#555" stroke-width="0.5"/>
<text x="403.6" y="34.6" dominant-baseline="central" font-family="Liberation Serif, serif" font-size="6.4" fill="#222">−26.25</text>
<text x="403.6" y="54.4" dominant-baseline="central" font-family="Liberation Serif, serif" font-size="6.4" fill="#222">−27.5</text>
<text x="403.6" y="74" dominant-baseline="central" font-family="Liberation Serif, serif" font-size="6.4" fill="#222">−28.75</text>
<text x="389.6" y="9.3" dominant-baseline="central" font-family="Liberation Serif, serif" font-size="6.8" fill="#000" stroke="#000" stroke-width="0.06">Equi. SWL</text>
<text x="389.6" y="16.2" dominant-baseline="central" font-family="Liberation Serif, serif" font-size="6.8" fill="#000" stroke="#000" stroke-width="0.06">(MSL)</text>
<rect x="257.9" y="194.8" width="30.8" height="80.5" rx="1.5" fill="#fff" stroke="#2a2a2a" stroke-width="1.1"/>
<rect x="260" y="269.72" width="13" height="2.78" fill="#bf3b52"/>
<rect x="260" y="267.24" width="13" height="2.78" fill="#d04b52"/>
<rect x="260" y="264.76" width="13" height="2.78" fill="#df5a53"/>
<rect x="260" y="262.28" width="13" height="2.78" fill="#e96f5c"/>
<rect x="260" y="259.8" width="13" height="2.78" fill="#f38466"/>
<rect x="260" y="257.32" width="13" height="2.78" fill="#f8986f"/>
<rect x="260" y="254.85" width="13" height="2.78" fill="#fbaf7a"/>
<rect x="260" y="252.37" width="13" height="2.78" fill="#fec486"/>
<rect x="260" y="249.89" width="13" height="2.78" fill="#fed395"/>
<rect x="260" y="247.41" width="13" height="2.78" fill="#fee5a5"/>
<rect x="260" y="244.93" width="13" height="2.78" fill="#fff0b5"/>
<rect x="260" y="242.45" width="13" height="2.78" fill="#fffac4"/>
<rect x="260" y="239.97" width="13" height="2.78" fill="#fafdd6"/>
<rect x="260" y="237.49" width="13" height="2.78" fill="#eff9e9"/>
<rect x="260" y="235.01" width="13" height="2.78" fill="#e5f5f9"/>
<rect x="260" y="232.53" width="13" height="2.78" fill="#d2ecf4"/>
<rect x="260" y="230.05" width="13" height="2.78" fill="#c0e3ef"/>
<rect x="260" y="227.57" width="13" height="2.78" fill="#afd6e8"/>
<rect x="260" y="225.1" width="13" height="2.78" fill="#9cc7df"/>
<rect x="260" y="222.62" width="13" height="2.78" fill="#8ab6d7"/>
<rect x="260" y="220.14" width="13" height="2.78" fill="#7ba5cd"/>
<rect x="260" y="217.66" width="13" height="2.78" fill="#6b91c3"/>
<rect x="260" y="215.18" width="13" height="2.78" fill="#647cb9"/>
<rect x="260" y="212.7" width="13" height="2.78" fill="#5d68af"/>
<line x1="260" y1="269.72" x2="273" y2="269.72" stroke="#555" stroke-width="0.4" stroke-opacity="0.5"/>
<line x1="260" y1="267.24" x2="273" y2="267.24" stroke="#555" stroke-width="0.4" stroke-opacity="0.5"/>
<line x1="260" y1="264.76" x2="273" y2="264.76" stroke="#555" stroke-width="0.4" stroke-opacity="0.5"/>
<line x1="260" y1="262.28" x2="273" y2="262.28" stroke="#555" stroke-width="0.4" stroke-opacity="0.5"/>
<line x1="260" y1="259.8" x2="273" y2="259.8" stroke="#555" stroke-width="0.4" stroke-opacity="0.5"/>
<line x1="260" y1="257.32" x2="273" y2="257.32" stroke="#555" stroke-width="0.4" stroke-opacity="0.5"/>
<line x1="260" y1="254.85" x2="273" y2="254.85" stroke="#555" stroke-width="0.4" stroke-opacity="0.5"/>
<line x1="260" y1="252.37" x2="273" y2="252.37" stroke="#555" stroke-width="0.4" stroke-opacity="0.5"/>
<line x1="260" y1="249.89" x2="273" y2="249.89" stroke="#555" stroke-width="0.4" stroke-opacity="0.5"/>
<line x1="260" y1="247.41" x2="273" y2="247.41" stroke="#555" stroke-width="0.4" stroke-opacity="0.5"/>
<line x1="260" y1="244.93" x2="273" y2="244.93" stroke="#555" stroke-width="0.4" stroke-opacity="0.5"/>
<line x1="260" y1="242.45" x2="273" y2="242.45" stroke="#555" stroke-width="0.4" stroke-opacity="0.5"/>
<line x1="260" y1="239.97" x2="273" y2="239.97" stroke="#555" stroke-width="0.4" stroke-opacity="0.5"/>
<line x1="260" y1="237.49" x2="273" y2="237.49" stroke="#555" stroke-width="0.4" stroke-opacity="0.5"/>
<line x1="260" y1="235.01" x2="273" y2="235.01" stroke="#555" stroke-width="0.4" stroke-opacity="0.5"/>
<line x1="260" y1="232.53" x2="273" y2="232.53" stroke="#555" stroke-width="0.4" stroke-opacity="0.5"/>
<line x1="260" y1="230.05" x2="273" y2="230.05" stroke="#555" stroke-width="0.4" stroke-opacity="0.5"/>
<line x1="260" y1="227.57" x2="273" y2="227.57" stroke="#555" stroke-width="0.4" stroke-opacity="0.5"/>
<line x1="260" y1="225.1" x2="273" y2="225.1" stroke="#555" stroke-width="0.4" stroke-opacity="0.5"/>
<line x1="260" y1="222.62" x2="273" y2="222.62" stroke="#555" stroke-width="0.4" stroke-opacity="0.5"/>
<line x1="260" y1="220.14" x2="273" y2="220.14" stroke="#555" stroke-width="0.4" stroke-opacity="0.5"/>
<line x1="260" y1="217.66" x2="273" y2="217.66" stroke="#555" stroke-width="0.4" stroke-opacity="0.5"/>
<line x1="260" y1="215.18" x2="273" y2="215.18" stroke="#555" stroke-width="0.4" stroke-opacity="0.5"/>
<rect x="260" y="212.7" width="13" height="59.5" fill="none" stroke="#555" stroke-width="0.5"/>
<text x="274.5" y="224.3" dominant-baseline="central" font-family="Liberation Serif, serif" font-size="6.2" fill="#222">25</text>
<text x="274.5" y="247" dominant-baseline="central" font-family="Liberation Serif, serif" font-size="6.2" fill="#222">12.5</text>
<text x="274.5" y="269.6" dominant-baseline="central" font-family="Liberation Serif, serif" font-size="6.2" fill="#222">0</text>
<text x="260.1" y="200.1" dominant-baseline="central" font-family="Liberation Serif, serif" font-size="5.9" fill="#000" stroke="#000" stroke-width="0.06">CS CVA</text>
<text x="260.1" y="207.4" dominant-baseline="central" font-family="Liberation Serif, serif" font-size="6.3" fill="#000" stroke="#000" stroke-width="0.06">(10<tspan font-size="4" dy="-2">3</tspan><tspan dy="2">.km</tspan><tspan font-size="4" dy="-2">2</tspan><tspan dy="2">)</tspan></text>
<rect x="519.5" y="195" width="54.5" height="79.5" rx="1.5" fill="#fff" stroke="#2a2a2a" stroke-width="1.1"/>
<rect x="522.3" y="269.58" width="12.7" height="3.02" fill="#bf3b52"/>
<rect x="522.3" y="266.85" width="12.7" height="3.02" fill="#d24d52"/>
<rect x="522.3" y="264.13" width="12.7" height="3.02" fill="#e26055"/>
<rect x="522.3" y="261.41" width="12.7" height="3.02" fill="#ec755f"/>
<rect x="522.3" y="258.69" width="12.7" height="3.02" fill="#f68c6a"/>
<rect x="522.3" y="255.96" width="12.7" height="3.02" fill="#faa575"/>
<rect x="522.3" y="253.24" width="12.7" height="3.02" fill="#fdbb7f"/>
<rect x="522.3" y="250.52" width="12.7" height="3.02" fill="#fecf90"/>
<rect x="522.3" y="247.8" width="12.7" height="3.02" fill="#fee0a0"/>
<rect x="522.3" y="245.07" width="12.7" height="3.02" fill="#feeeb2"/>
<rect x="522.3" y="242.35" width="12.7" height="3.02" fill="#fffac4"/>
<rect x="522.3" y="239.63" width="12.7" height="3.02" fill="#fafdd6"/>
<rect x="522.3" y="236.9" width="12.7" height="3.02" fill="#eef8eb"/>
<rect x="522.3" y="234.18" width="12.7" height="3.02" fill="#e0f2f8"/>
<rect x="522.3" y="231.46" width="12.7" height="3.02" fill="#cde9f2"/>
<rect x="522.3" y="228.74" width="12.7" height="3.02" fill="#b9dfec"/>
<rect x="522.3" y="226.01" width="12.7" height="3.02" fill="#a5cee3"/>
<rect x="522.3" y="223.29" width="12.7" height="3.02" fill="#92bfdb"/>
<rect x="522.3" y="220.57" width="12.7" height="3.02" fill="#80aad0"/>
<rect x="522.3" y="217.85" width="12.7" height="3.02" fill="#6f97c6"/>
<rect x="522.3" y="215.12" width="12.7" height="3.02" fill="#6580bb"/>
<rect x="522.3" y="212.4" width="12.7" height="3.02" fill="#5d68af"/>
<line x1="522.3" y1="269.58" x2="535" y2="269.58" stroke="#555" stroke-width="0.4" stroke-opacity="0.5"/>
<line x1="522.3" y1="266.85" x2="535" y2="266.85" stroke="#555" stroke-width="0.4" stroke-opacity="0.5"/>
<line x1="522.3" y1="264.13" x2="535" y2="264.13" stroke="#555" stroke-width="0.4" stroke-opacity="0.5"/>
<line x1="522.3" y1="261.41" x2="535" y2="261.41" stroke="#555" stroke-width="0.4" stroke-opacity="0.5"/>
<line x1="522.3" y1="258.69" x2="535" y2="258.69" stroke="#555" stroke-width="0.4" stroke-opacity="0.5"/>
<line x1="522.3" y1="255.96" x2="535" y2="255.96" stroke="#555" stroke-width="0.4" stroke-opacity="0.5"/>
<line x1="522.3" y1="253.24" x2="535" y2="253.24" stroke="#555" stroke-width="0.4" stroke-opacity="0.5"/>
<line x1="522.3" y1="250.52" x2="535" y2="250.52" stroke="#555" stroke-width="0.4" stroke-opacity="0.5"/>
<line x1="522.3" y1="247.8" x2="535" y2="247.8" stroke="#555" stroke-width="0.4" stroke-opacity="0.5"/>
<line x1="522.3" y1="245.07" x2="535" y2="245.07" stroke="#555" stroke-width="0.4" stroke-opacity="0.5"/>
<line x1="522.3" y1="242.35" x2="535" y2="242.35" stroke="#555" stroke-width="0.4" stroke-opacity="0.5"/>
<line x1="522.3" y1="239.63" x2="535" y2="239.63" stroke="#555" stroke-width="0.4" stroke-opacity="0.5"/>
<line x1="522.3" y1="236.9" x2="535" y2="236.9" stroke="#555" stroke-width="0.4" stroke-opacity="0.5"/>
<line x1="522.3" y1="234.18" x2="535" y2="234.18" stroke="#555" stroke-width="0.4" stroke-opacity="0.5"/>
<line x1="522.3" y1="231.46" x2="535" y2="231.46" stroke="#555" stroke-width="0.4" stroke-opacity="0.5"/>
<line x1="522.3" y1="228.74" x2="535" y2="228.74" stroke="#555" stroke-width="0.4" stroke-opacity="0.5"/>
<line x1="522.3" y1="226.01" x2="535" y2="226.01" stroke="#555" stroke-width="0.4" stroke-opacity="0.5"/>
<line x1="522.3" y1="223.29" x2="535" y2="223.29" stroke="#555" stroke-width="0.4" stroke-opacity="0.5"/>
<line x1="522.3" y1="220.57" x2="535" y2="220.57" stroke="#555" stroke-width="0.4" stroke-opacity="0.5"/>
<line x1="522.3" y1="217.85" x2="535" y2="217.85" stroke="#555" stroke-width="0.4" stroke-opacity="0.5"/>
<line x1="522.3" y1="215.12" x2="535" y2="215.12" stroke="#555" stroke-width="0.4" stroke-opacity="0.5"/>
<rect x="522.3" y="212.4" width="12.7" height="59.9" fill="none" stroke="#555" stroke-width="0.5"/>
<text x="536.5" y="215.6" dominant-baseline="central" font-family="Liberation Serif, serif" font-size="6.2" fill="#222">25</text>
<text x="536.5" y="243" dominant-baseline="central" font-family="Liberation Serif, serif" font-size="6.2" fill="#222">12.5</text>
<text x="536.5" y="269.4" dominant-baseline="central" font-family="Liberation Serif, serif" font-size="6.2" fill="#222">0</text>
<text x="522.4" y="200.3" dominant-baseline="central" font-family="Liberation Serif, serif" font-size="7.05" fill="#000" stroke="#000" stroke-width="0.06">North. Cas. CVA</text>
<text x="522.4" y="207.2" dominant-baseline="central" font-family="Liberation Serif, serif" font-size="6.0" fill="#000" stroke="#000" stroke-width="0.06">(10<tspan font-size="4" dy="-2">3</tspan><tspan dy="2">.km</tspan><tspan font-size="4" dy="-2">2</tspan><tspan dy="2">)</tspan></text>
<rect x="227.4" y="387" width="53.2" height="81.4" rx="1.5" fill="#fff" stroke="#2a2a2a" stroke-width="1.1"/>
<rect x="229.4" y="462.43" width="12.6" height="3.17" fill="#c03c52"/>
<rect x="229.4" y="459.56" width="12.6" height="3.17" fill="#d34e52"/>
<rect x="229.4" y="456.69" width="12.6" height="3.17" fill="#e36256"/>
<rect x="229.4" y="453.81" width="12.6" height="3.17" fill="#ee7961"/>
<rect x="229.4" y="450.94" width="12.6" height="3.17" fill="#f7906b"/>
<rect x="229.4" y="448.07" width="12.6" height="3.17" fill="#fbab78"/>
<rect x="229.4" y="445.2" width="12.6" height="3.17" fill="#fdc284"/>
<rect x="229.4" y="442.33" width="12.6" height="3.17" fill="#fed596"/>
<rect x="229.4" y="439.46" width="12.6" height="3.17" fill="#fee7a8"/>
<rect x="229.4" y="436.59" width="12.6" height="3.17" fill="#fff3b9"/>
<rect x="229.4" y="433.71" width="12.6" height="3.17" fill="#ffffcd"/>
<rect x="229.4" y="430.84" width="12.6" height="3.17" fill="#f3fae2"/>
<rect x="229.4" y="427.97" width="12.6" height="3.17" fill="#e7f6f8"/>
<rect x="229.4" y="425.1" width="12.6" height="3.17" fill="#d4ecf4"/>
<rect x="229.4" y="422.23" width="12.6" height="3.17" fill="#c0e3ef"/>
<rect x="229.4" y="419.36" width="12.6" height="3.17" fill="#abd3e6"/>
<rect x="229.4" y="416.49" width="12.6" height="3.17" fill="#95c2dc"/>
<rect x="229.4" y="413.61" width="12.6" height="3.17" fill="#83aed2"/>
<rect x="229.4" y="410.74" width="12.6" height="3.17" fill="#7199c7"/>
<rect x="229.4" y="407.87" width="12.6" height="3.17" fill="#6582bc"/>
<rect x="229.4" y="405" width="12.6" height="3.17" fill="#5e6ab0"/>
<line x1="229.4" y1="462.43" x2="242" y2="462.43" stroke="#555" stroke-width="0.4" stroke-opacity="0.5"/>
<line x1="229.4" y1="459.56" x2="242" y2="459.56" stroke="#555" stroke-width="0.4" stroke-opacity="0.5"/>
<line x1="229.4" y1="456.69" x2="242" y2="456.69" stroke="#555" stroke-width="0.4" stroke-opacity="0.5"/>
<line x1="229.4" y1="453.81" x2="242" y2="453.81" stroke="#555" stroke-width="0.4" stroke-opacity="0.5"/>
<line x1="229.4" y1="450.94" x2="242" y2="450.94" stroke="#555" stroke-width="0.4" stroke-opacity="0.5"/>
<line x1="229.4" y1="448.07" x2="242" y2="448.07" stroke="#555" stroke-width="0.4" stroke-opacity="0.5"/>
<line x1="229.4" y1="445.2" x2="242" y2="445.2" stroke="#555" stroke-width="0.4" stroke-opacity="0.5"/>
<line x1="229.4" y1="442.33" x2="242" y2="442.33" stroke="#555" stroke-width="0.4" stroke-opacity="0.5"/>
<line x1="229.4" y1="439.46" x2="242" y2="439.46" stroke="#555" stroke-width="0.4" stroke-opacity="0.5"/>
<line x1="229.4" y1="436.59" x2="242" y2="436.59" stroke="#555" stroke-width="0.4" stroke-opacity="0.5"/>
<line x1="229.4" y1="433.71" x2="242" y2="433.71" stroke="#555" stroke-width="0.4" stroke-opacity="0.5"/>
<line x1="229.4" y1="430.84" x2="242" y2="430.84" stroke="#555" stroke-width="0.4" stroke-opacity="0.5"/>
<line x1="229.4" y1="427.97" x2="242" y2="427.97" stroke="#555" stroke-width="0.4" stroke-opacity="0.5"/>
<line x1="229.4" y1="425.1" x2="242" y2="425.1" stroke="#555" stroke-width="0.4" stroke-opacity="0.5"/>
<line x1="229.4" y1="422.23" x2="242" y2="422.23" stroke="#555" stroke-width="0.4" stroke-opacity="0.5"/>
<line x1="229.4" y1="419.36" x2="242" y2="419.36" stroke="#555" stroke-width="0.4" stroke-opacity="0.5"/>
<line x1="229.4" y1="416.49" x2="242" y2="416.49" stroke="#555" stroke-width="0.4" stroke-opacity="0.5"/>
<line x1="229.4" y1="413.61" x2="242" y2="413.61" stroke="#555" stroke-width="0.4" stroke-opacity="0.5"/>
<line x1="229.4" y1="410.74" x2="242" y2="410.74" stroke="#555" stroke-width="0.4" stroke-opacity="0.5"/>
<line x1="229.4" y1="407.87" x2="242" y2="407.87" stroke="#555" stroke-width="0.4" stroke-opacity="0.5"/>
<rect x="229.4" y="405" width="12.6" height="60.3" fill="none" stroke="#555" stroke-width="0.5"/>
<text x="243.5" y="432.4" dominant-baseline="central" font-family="Liberation Serif, serif" font-size="6.2" fill="#222">1.25</text>
<text x="243.5" y="461.7" dominant-baseline="central" font-family="Liberation Serif, serif" font-size="6.2" fill="#222">0</text>
<text x="229.5" y="394" dominant-baseline="central" font-family="Liberation Serif, serif" font-size="7.05" fill="#000" stroke="#000" stroke-width="0.06">South. Cas. CVA</text>
<text x="229.5" y="400.5" dominant-baseline="central" font-family="Liberation Serif, serif" font-size="6.0" fill="#000" stroke="#000" stroke-width="0.06">(10<tspan font-size="4" dy="-2">3</tspan><tspan dy="2">.km</tspan><tspan font-size="4" dy="-2">2</tspan><tspan dy="2">)</tspan></text>
<rect x="523.7" y="387.8" width="50.3" height="78.6" rx="1.5" fill="#fff" stroke="#2a2a2a" stroke-width="1.1"/>
<rect x="526" y="462.01" width="12.1" height="3.19" fill="#c03c52"/>
<rect x="526" y="459.13" width="12.1" height="3.19" fill="#d34e52"/>
<rect x="526" y="456.24" width="12.1" height="3.19" fill="#e36256"/>
<rect x="526" y="453.36" width="12.1" height="3.19" fill="#ee7961"/>
<rect x="526" y="450.47" width="12.1" height="3.19" fill="#f7906b"/>
<rect x="526" y="447.59" width="12.1" height="3.19" fill="#fbab78"/>
<rect x="526" y="444.7" width="12.1" height="3.19" fill="#fdc284"/>
<rect x="526" y="441.81" width="12.1" height="3.19" fill="#fed596"/>
<rect x="526" y="438.93" width="12.1" height="3.19" fill="#fee7a8"/>
<rect x="526" y="436.04" width="12.1" height="3.19" fill="#fff3b9"/>
<rect x="526" y="433.16" width="12.1" height="3.19" fill="#ffffcd"/>
<rect x="526" y="430.27" width="12.1" height="3.19" fill="#f3fae2"/>
<rect x="526" y="427.39" width="12.1" height="3.19" fill="#e7f6f8"/>
<rect x="526" y="424.5" width="12.1" height="3.19" fill="#d4ecf4"/>
<rect x="526" y="421.61" width="12.1" height="3.19" fill="#c0e3ef"/>
<rect x="526" y="418.73" width="12.1" height="3.19" fill="#abd3e6"/>
<rect x="526" y="415.84" width="12.1" height="3.19" fill="#95c2dc"/>
<rect x="526" y="412.96" width="12.1" height="3.19" fill="#83aed2"/>
<rect x="526" y="410.07" width="12.1" height="3.19" fill="#7199c7"/>
<rect x="526" y="407.19" width="12.1" height="3.19" fill="#6582bc"/>
<rect x="526" y="404.3" width="12.1" height="3.19" fill="#5e6ab0"/>
<line x1="526" y1="462.01" x2="538.1" y2="462.01" stroke="#555" stroke-width="0.4" stroke-opacity="0.5"/>
<line x1="526" y1="459.13" x2="538.1" y2="459.13" stroke="#555" stroke-width="0.4" stroke-opacity="0.5"/>
<line x1="526" y1="456.24" x2="538.1" y2="456.24" stroke="#555" stroke-width="0.4" stroke-opacity="0.5"/>
<line x1="526" y1="453.36" x2="538.1" y2="453.36" stroke="#555" stroke-width="0.4" stroke-opacity="0.5"/>
<line x1="526" y1="450.47" x2="538.1" y2="450.47" stroke="#555" stroke-width="0.4" stroke-opacity="0.5"/>
<line x1="526" y1="447.59" x2="538.1" y2="447.59" stroke="#555" stroke-width="0.4" stroke-opacity="0.5"/>
<line x1="526" y1="444.7" x2="538.1" y2="444.7" stroke="#555" stroke-width="0.4" stroke-opacity="0.5"/>
<line x1="526" y1="441.81" x2="538.1" y2="441.81" stroke="#555" stroke-width="0.4" stroke-opacity="0.5"/>
<line x1="526" y1="438.93" x2="538.1" y2="438.93" stroke="#555" stroke-width="0.4" stroke-opacity="0.5"/>
<line x1="526" y1="436.04" x2="538.1" y2="436.04" stroke="#555" stroke-width="0.4" stroke-opacity="0.5"/>
<line x1="526" y1="433.16" x2="538.1" y2="433.16" stroke="#555" stroke-width="0.4" stroke-opacity="0.5"/>
<line x1="526" y1="430.27" x2="538.1" y2="430.27" stroke="#555" stroke-width="0.4" stroke-opacity="0.5"/>
<line x1="526" y1="427.39" x2="538.1" y2="427.39" stroke="#555" stroke-width="0.4" stroke-opacity="0.5"/>
<line x1="526" y1="424.5" x2="538.1" y2="424.5" stroke="#555" stroke-width="0.4" stroke-opacity="0.5"/>
<line x1="526" y1="421.61" x2="538.1" y2="421.61" stroke="#555" stroke-width="0.4" stroke-opacity="0.5"/>
<line x1="526" y1="418.73" x2="538.1" y2="418.73" stroke="#555" stroke-width="0.4" stroke-opacity="0.5"/>
<line x1="526" y1="415.84" x2="538.1" y2="415.84" stroke="#555" stroke-width="0.4" stroke-opacity="0.5"/>
<line x1="526" y1="412.96" x2="538.1" y2="412.96" stroke="#555" stroke-width="0.4" stroke-opacity="0.5"/>
<line x1="526" y1="410.07" x2="538.1" y2="410.07" stroke="#555" stroke-width="0.4" stroke-opacity="0.5"/>
<line x1="526" y1="407.19" x2="538.1" y2="407.19" stroke="#555" stroke-width="0.4" stroke-opacity="0.5"/>
<rect x="526" y="404.3" width="12.1" height="60.6" fill="none" stroke="#555" stroke-width="0.5"/>
<text x="539.6" y="420" dominant-baseline="central" font-family="Liberation Serif, serif" font-size="6.2" fill="#222">0.12</text>
<text x="539.6" y="440" dominant-baseline="central" font-family="Liberation Serif, serif" font-size="6.2" fill="#222">0.06</text>
<text x="539.6" y="459.7" dominant-baseline="central" font-family="Liberation Serif, serif" font-size="6.2" fill="#222">0</text>
<text x="526.1" y="393.2" dominant-baseline="central" font-family="Liberation Serif, serif" font-size="7.1" fill="#000" stroke="#000" stroke-width="0.06">Mid. Cas. CVA</text>
<text x="526.1" y="399.6" dominant-baseline="central" font-family="Liberation Serif, serif" font-size="6.0" fill="#000" stroke="#000" stroke-width="0.06">(10<tspan font-size="4" dy="-2">3</tspan><tspan dy="2">.km</tspan><tspan font-size="4" dy="-2">2</tspan><tspan dy="2">)</tspan></text>
</svg>
</body></html>
